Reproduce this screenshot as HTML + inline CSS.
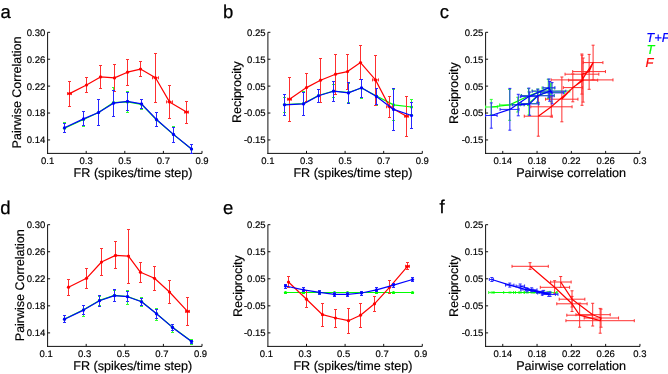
<!DOCTYPE html>
<html><head><meta charset="utf-8"><style>
html,body{margin:0;padding:0;background:#fff;width:668px;height:374px;overflow:hidden}
svg{display:block;will-change:transform}
text{font-family:"Liberation Sans",sans-serif;fill:#000;text-rendering:geometricPrecision;stroke:#000;stroke-width:0.18}
</style></head><body>
<svg width="668" height="374" viewBox="0 0 668 374">
<g font-family="Liberation Sans" fill="#000">
<line x1="47.60" y1="32.30" x2="47.60" y2="153.90" stroke="#111111" stroke-width="1.0"/>
<line x1="47.10" y1="153.40" x2="202.00" y2="153.40" stroke="#111111" stroke-width="1.0"/>
<line x1="47.60" y1="32.30" x2="50.10" y2="32.30" stroke="#111111" stroke-width="1.0"/>
<text x="45.30" y="35.70" font-size="9.5" text-anchor="end">0.30</text>
<line x1="47.60" y1="59.21" x2="50.10" y2="59.21" stroke="#111111" stroke-width="1.0"/>
<text x="45.30" y="62.61" font-size="9.5" text-anchor="end">0.26</text>
<line x1="47.60" y1="86.12" x2="50.10" y2="86.12" stroke="#111111" stroke-width="1.0"/>
<text x="45.30" y="89.52" font-size="9.5" text-anchor="end">0.22</text>
<line x1="47.60" y1="113.03" x2="50.10" y2="113.03" stroke="#111111" stroke-width="1.0"/>
<text x="45.30" y="116.43" font-size="9.5" text-anchor="end">0.18</text>
<line x1="47.60" y1="139.94" x2="50.10" y2="139.94" stroke="#111111" stroke-width="1.0"/>
<text x="45.30" y="143.34" font-size="9.5" text-anchor="end">0.14</text>
<text x="47.60" y="163.70" font-size="9.5" text-anchor="middle">0.1</text>
<line x1="86.20" y1="153.40" x2="86.20" y2="150.90" stroke="#111111" stroke-width="1.0"/>
<text x="86.20" y="163.70" font-size="9.5" text-anchor="middle">0.3</text>
<line x1="124.80" y1="153.40" x2="124.80" y2="150.90" stroke="#111111" stroke-width="1.0"/>
<text x="124.80" y="163.70" font-size="9.5" text-anchor="middle">0.5</text>
<line x1="163.40" y1="153.40" x2="163.40" y2="150.90" stroke="#111111" stroke-width="1.0"/>
<text x="163.40" y="163.70" font-size="9.5" text-anchor="middle">0.7</text>
<line x1="202.00" y1="153.40" x2="202.00" y2="150.90" stroke="#111111" stroke-width="1.0"/>
<text x="202.00" y="163.70" font-size="9.5" text-anchor="middle">0.9</text>
<text x="73.60" y="176.60" font-size="12.6" text-anchor="start">FR (spikes/time step)</text>
<text transform="translate(20.8,148.4) rotate(-90)" font-size="12.5">Pairwise Correlation</text>
<line x1="267.90" y1="32.30" x2="267.90" y2="153.90" stroke="#111111" stroke-width="1.0"/>
<line x1="267.40" y1="153.40" x2="422.30" y2="153.40" stroke="#111111" stroke-width="1.0"/>
<line x1="267.90" y1="32.30" x2="270.40" y2="32.30" stroke="#111111" stroke-width="1.0"/>
<text x="265.60" y="35.70" font-size="9.5" text-anchor="end">0.25</text>
<line x1="267.90" y1="59.21" x2="270.40" y2="59.21" stroke="#111111" stroke-width="1.0"/>
<text x="265.60" y="62.61" font-size="9.5" text-anchor="end">0.15</text>
<line x1="267.90" y1="86.12" x2="270.40" y2="86.12" stroke="#111111" stroke-width="1.0"/>
<text x="265.60" y="89.52" font-size="9.5" text-anchor="end">0.05</text>
<line x1="267.90" y1="113.03" x2="270.40" y2="113.03" stroke="#111111" stroke-width="1.0"/>
<text x="265.60" y="116.43" font-size="9.5" text-anchor="end">-0.05</text>
<line x1="267.90" y1="139.94" x2="270.40" y2="139.94" stroke="#111111" stroke-width="1.0"/>
<text x="265.60" y="143.34" font-size="9.5" text-anchor="end">-0.15</text>
<text x="267.90" y="163.70" font-size="9.5" text-anchor="middle">0.1</text>
<line x1="306.50" y1="153.40" x2="306.50" y2="150.90" stroke="#111111" stroke-width="1.0"/>
<text x="306.50" y="163.70" font-size="9.5" text-anchor="middle">0.3</text>
<line x1="345.10" y1="153.40" x2="345.10" y2="150.90" stroke="#111111" stroke-width="1.0"/>
<text x="345.10" y="163.70" font-size="9.5" text-anchor="middle">0.5</text>
<line x1="383.70" y1="153.40" x2="383.70" y2="150.90" stroke="#111111" stroke-width="1.0"/>
<text x="383.70" y="163.70" font-size="9.5" text-anchor="middle">0.7</text>
<line x1="422.30" y1="153.40" x2="422.30" y2="150.90" stroke="#111111" stroke-width="1.0"/>
<text x="422.30" y="163.70" font-size="9.5" text-anchor="middle">0.9</text>
<text x="293.40" y="176.60" font-size="12.6" text-anchor="start">FR (spikes/time step)</text>
<text transform="translate(241.2,123.1) rotate(-90)" font-size="12.5">Reciprocity</text>
<line x1="485.60" y1="32.30" x2="485.60" y2="153.90" stroke="#111111" stroke-width="1.0"/>
<line x1="485.10" y1="153.40" x2="640.00" y2="153.40" stroke="#111111" stroke-width="1.0"/>
<line x1="485.60" y1="32.30" x2="488.10" y2="32.30" stroke="#111111" stroke-width="1.0"/>
<text x="483.30" y="35.70" font-size="9.5" text-anchor="end">0.25</text>
<line x1="485.60" y1="59.21" x2="488.10" y2="59.21" stroke="#111111" stroke-width="1.0"/>
<text x="483.30" y="62.61" font-size="9.5" text-anchor="end">0.15</text>
<line x1="485.60" y1="86.12" x2="488.10" y2="86.12" stroke="#111111" stroke-width="1.0"/>
<text x="483.30" y="89.52" font-size="9.5" text-anchor="end">0.05</text>
<line x1="485.60" y1="113.03" x2="488.10" y2="113.03" stroke="#111111" stroke-width="1.0"/>
<text x="483.30" y="116.43" font-size="9.5" text-anchor="end">-0.05</text>
<line x1="485.60" y1="139.94" x2="488.10" y2="139.94" stroke="#111111" stroke-width="1.0"/>
<text x="483.30" y="143.34" font-size="9.5" text-anchor="end">-0.15</text>
<line x1="502.75" y1="153.40" x2="502.75" y2="150.90" stroke="#111111" stroke-width="1.0"/>
<text x="502.75" y="163.70" font-size="9.5" text-anchor="middle">0.14</text>
<line x1="537.05" y1="153.40" x2="537.05" y2="150.90" stroke="#111111" stroke-width="1.0"/>
<text x="537.05" y="163.70" font-size="9.5" text-anchor="middle">0.18</text>
<line x1="571.35" y1="153.40" x2="571.35" y2="150.90" stroke="#111111" stroke-width="1.0"/>
<text x="571.35" y="163.70" font-size="9.5" text-anchor="middle">0.22</text>
<line x1="605.65" y1="153.40" x2="605.65" y2="150.90" stroke="#111111" stroke-width="1.0"/>
<text x="605.65" y="163.70" font-size="9.5" text-anchor="middle">0.26</text>
<line x1="639.95" y1="153.40" x2="639.95" y2="150.90" stroke="#111111" stroke-width="1.0"/>
<text x="639.95" y="163.70" font-size="9.5" text-anchor="middle">0.3</text>
<text x="516.20" y="176.60" font-size="12.6" text-anchor="start">Pairwise correlation</text>
<text transform="translate(457.7,124.0) rotate(-90)" font-size="12.5">Reciprocity</text>
<line x1="47.60" y1="224.70" x2="47.60" y2="346.90" stroke="#111111" stroke-width="1.0"/>
<line x1="47.10" y1="346.40" x2="202.00" y2="346.40" stroke="#111111" stroke-width="1.0"/>
<line x1="47.60" y1="224.70" x2="50.10" y2="224.70" stroke="#111111" stroke-width="1.0"/>
<text x="45.30" y="228.10" font-size="9.5" text-anchor="end">0.30</text>
<line x1="47.60" y1="251.74" x2="50.10" y2="251.74" stroke="#111111" stroke-width="1.0"/>
<text x="45.30" y="255.14" font-size="9.5" text-anchor="end">0.26</text>
<line x1="47.60" y1="278.79" x2="50.10" y2="278.79" stroke="#111111" stroke-width="1.0"/>
<text x="45.30" y="282.19" font-size="9.5" text-anchor="end">0.22</text>
<line x1="47.60" y1="305.83" x2="50.10" y2="305.83" stroke="#111111" stroke-width="1.0"/>
<text x="45.30" y="309.23" font-size="9.5" text-anchor="end">0.18</text>
<line x1="47.60" y1="332.88" x2="50.10" y2="332.88" stroke="#111111" stroke-width="1.0"/>
<text x="45.30" y="336.28" font-size="9.5" text-anchor="end">0.14</text>
<text x="46.10" y="356.70" font-size="9.5" text-anchor="middle">0.1</text>
<line x1="86.20" y1="346.40" x2="86.20" y2="343.90" stroke="#111111" stroke-width="1.0"/>
<text x="84.70" y="356.70" font-size="9.5" text-anchor="middle">0.3</text>
<line x1="124.80" y1="346.40" x2="124.80" y2="343.90" stroke="#111111" stroke-width="1.0"/>
<text x="123.30" y="356.70" font-size="9.5" text-anchor="middle">0.5</text>
<line x1="163.40" y1="346.40" x2="163.40" y2="343.90" stroke="#111111" stroke-width="1.0"/>
<text x="161.90" y="356.70" font-size="9.5" text-anchor="middle">0.7</text>
<line x1="202.00" y1="346.40" x2="202.00" y2="343.90" stroke="#111111" stroke-width="1.0"/>
<text x="200.50" y="356.70" font-size="9.5" text-anchor="middle">0.9</text>
<text x="73.20" y="369.60" font-size="12.6" text-anchor="start">FR (spikes/time step)</text>
<text transform="translate(23.8,341.2) rotate(-90)" font-size="12.5">Pairwise Correlation</text>
<line x1="267.90" y1="224.70" x2="267.90" y2="346.90" stroke="#111111" stroke-width="1.0"/>
<line x1="267.40" y1="346.40" x2="422.30" y2="346.40" stroke="#111111" stroke-width="1.0"/>
<line x1="267.90" y1="224.70" x2="270.40" y2="224.70" stroke="#111111" stroke-width="1.0"/>
<text x="265.60" y="228.10" font-size="9.5" text-anchor="end">0.25</text>
<line x1="267.90" y1="251.74" x2="270.40" y2="251.74" stroke="#111111" stroke-width="1.0"/>
<text x="265.60" y="255.14" font-size="9.5" text-anchor="end">0.15</text>
<line x1="267.90" y1="278.79" x2="270.40" y2="278.79" stroke="#111111" stroke-width="1.0"/>
<text x="265.60" y="282.19" font-size="9.5" text-anchor="end">0.05</text>
<line x1="267.90" y1="305.83" x2="270.40" y2="305.83" stroke="#111111" stroke-width="1.0"/>
<text x="265.60" y="309.23" font-size="9.5" text-anchor="end">-0.05</text>
<line x1="267.90" y1="332.88" x2="270.40" y2="332.88" stroke="#111111" stroke-width="1.0"/>
<text x="265.60" y="336.28" font-size="9.5" text-anchor="end">-0.15</text>
<text x="266.40" y="356.70" font-size="9.5" text-anchor="middle">0.1</text>
<line x1="306.50" y1="346.40" x2="306.50" y2="343.90" stroke="#111111" stroke-width="1.0"/>
<text x="305.00" y="356.70" font-size="9.5" text-anchor="middle">0.3</text>
<line x1="345.10" y1="346.40" x2="345.10" y2="343.90" stroke="#111111" stroke-width="1.0"/>
<text x="343.60" y="356.70" font-size="9.5" text-anchor="middle">0.5</text>
<line x1="383.70" y1="346.40" x2="383.70" y2="343.90" stroke="#111111" stroke-width="1.0"/>
<text x="382.20" y="356.70" font-size="9.5" text-anchor="middle">0.7</text>
<line x1="422.30" y1="346.40" x2="422.30" y2="343.90" stroke="#111111" stroke-width="1.0"/>
<text x="420.80" y="356.70" font-size="9.5" text-anchor="middle">0.9</text>
<text x="293.40" y="369.60" font-size="12.6" text-anchor="start">FR (spikes/time step)</text>
<text transform="translate(241.7,317.1) rotate(-90)" font-size="12.5">Reciprocity</text>
<line x1="485.60" y1="224.70" x2="485.60" y2="346.90" stroke="#111111" stroke-width="1.0"/>
<line x1="485.10" y1="346.40" x2="640.00" y2="346.40" stroke="#111111" stroke-width="1.0"/>
<line x1="485.60" y1="224.70" x2="488.10" y2="224.70" stroke="#111111" stroke-width="1.0"/>
<text x="483.30" y="228.10" font-size="9.5" text-anchor="end">0.25</text>
<line x1="485.60" y1="251.74" x2="488.10" y2="251.74" stroke="#111111" stroke-width="1.0"/>
<text x="483.30" y="255.14" font-size="9.5" text-anchor="end">0.15</text>
<line x1="485.60" y1="278.79" x2="488.10" y2="278.79" stroke="#111111" stroke-width="1.0"/>
<text x="483.30" y="282.19" font-size="9.5" text-anchor="end">0.05</text>
<line x1="485.60" y1="305.83" x2="488.10" y2="305.83" stroke="#111111" stroke-width="1.0"/>
<text x="483.30" y="309.23" font-size="9.5" text-anchor="end">-0.05</text>
<line x1="485.60" y1="332.88" x2="488.10" y2="332.88" stroke="#111111" stroke-width="1.0"/>
<text x="483.30" y="336.28" font-size="9.5" text-anchor="end">-0.15</text>
<line x1="502.75" y1="346.40" x2="502.75" y2="343.90" stroke="#111111" stroke-width="1.0"/>
<text x="502.75" y="356.70" font-size="9.5" text-anchor="middle">0.14</text>
<line x1="537.05" y1="346.40" x2="537.05" y2="343.90" stroke="#111111" stroke-width="1.0"/>
<text x="537.05" y="356.70" font-size="9.5" text-anchor="middle">0.18</text>
<line x1="571.35" y1="346.40" x2="571.35" y2="343.90" stroke="#111111" stroke-width="1.0"/>
<text x="571.35" y="356.70" font-size="9.5" text-anchor="middle">0.22</text>
<line x1="605.65" y1="346.40" x2="605.65" y2="343.90" stroke="#111111" stroke-width="1.0"/>
<text x="605.65" y="356.70" font-size="9.5" text-anchor="middle">0.26</text>
<line x1="639.95" y1="346.40" x2="639.95" y2="343.90" stroke="#111111" stroke-width="1.0"/>
<text x="639.95" y="356.70" font-size="9.5" text-anchor="middle">0.3</text>
<text x="516.20" y="369.60" font-size="12.6" text-anchor="start">Pairwise correlation</text>
<text transform="translate(458.1,317.1) rotate(-90)" font-size="12.5">Reciprocity</text>
<text x="0.60" y="17.50" font-size="18.5" text-anchor="start" style="stroke:#000;stroke-width:0.25">a</text>
<text x="223.00" y="17.50" font-size="18.5" text-anchor="start" style="stroke:#000;stroke-width:0.25">b</text>
<text x="439.70" y="17.60" font-size="18.5" text-anchor="start" style="stroke:#000;stroke-width:0.25">c</text>
<text x="0.20" y="213.50" font-size="18.5" text-anchor="start" style="stroke:#000;stroke-width:0.25">d</text>
<text x="223.00" y="213.50" font-size="18.5" text-anchor="start" style="stroke:#000;stroke-width:0.25">e</text>
<text x="439.50" y="213.30" font-size="18.5" text-anchor="start" style="stroke:#000;stroke-width:0.25">f</text>
<g font-style="italic" font-size="13">
<text x="646.2" y="42.2" style="fill:#0000ff;stroke:#0000ff">T+F</text>
<text x="646.4" y="54.4" style="fill:#00ff00;stroke:#00ff00">T</text>
<text x="645.6" y="66.8" style="fill:#ff0000;stroke:#ff0000">F</text>
</g>
</g>
<line x1="64.50" y1="122.80" x2="64.50" y2="132.50" stroke="#30ff30" stroke-width="1.0"/>
<line x1="63.00" y1="122.50" x2="66.00" y2="122.50" stroke="#30ff30" stroke-width="1.0"/>
<line x1="63.00" y1="132.50" x2="66.00" y2="132.50" stroke="#30ff30" stroke-width="1.0"/>
<line x1="83.50" y1="111.50" x2="83.50" y2="126.50" stroke="#30ff30" stroke-width="1.0"/>
<line x1="82.00" y1="111.50" x2="85.00" y2="111.50" stroke="#30ff30" stroke-width="1.0"/>
<line x1="82.00" y1="126.50" x2="85.00" y2="126.50" stroke="#30ff30" stroke-width="1.0"/>
<line x1="98.50" y1="99.50" x2="98.50" y2="125.30" stroke="#30ff30" stroke-width="1.0"/>
<line x1="97.00" y1="99.50" x2="100.00" y2="99.50" stroke="#30ff30" stroke-width="1.0"/>
<line x1="97.00" y1="125.50" x2="100.00" y2="125.50" stroke="#30ff30" stroke-width="1.0"/>
<line x1="113.50" y1="87.40" x2="113.50" y2="116.90" stroke="#30ff30" stroke-width="1.0"/>
<line x1="112.00" y1="87.50" x2="115.00" y2="87.50" stroke="#30ff30" stroke-width="1.0"/>
<line x1="112.00" y1="116.50" x2="115.00" y2="116.50" stroke="#30ff30" stroke-width="1.0"/>
<line x1="127.50" y1="91.60" x2="127.50" y2="112.40" stroke="#30ff30" stroke-width="1.0"/>
<line x1="126.00" y1="91.50" x2="129.00" y2="91.50" stroke="#30ff30" stroke-width="1.0"/>
<line x1="126.00" y1="112.50" x2="129.00" y2="112.50" stroke="#30ff30" stroke-width="1.0"/>
<line x1="141.50" y1="99.50" x2="141.50" y2="109.20" stroke="#30ff30" stroke-width="1.0"/>
<line x1="140.00" y1="99.50" x2="143.00" y2="99.50" stroke="#30ff30" stroke-width="1.0"/>
<line x1="140.00" y1="109.50" x2="143.00" y2="109.50" stroke="#30ff30" stroke-width="1.0"/>
<line x1="156.50" y1="112.30" x2="156.50" y2="126.20" stroke="#30ff30" stroke-width="1.0"/>
<line x1="155.00" y1="112.50" x2="158.00" y2="112.50" stroke="#30ff30" stroke-width="1.0"/>
<line x1="155.00" y1="126.50" x2="158.00" y2="126.50" stroke="#30ff30" stroke-width="1.0"/>
<line x1="173.50" y1="126.20" x2="173.50" y2="142.40" stroke="#30ff30" stroke-width="1.0"/>
<line x1="172.00" y1="126.50" x2="175.00" y2="126.50" stroke="#30ff30" stroke-width="1.0"/>
<line x1="172.00" y1="142.50" x2="175.00" y2="142.50" stroke="#30ff30" stroke-width="1.0"/>
<line x1="191.50" y1="144.00" x2="191.50" y2="153.50" stroke="#30ff30" stroke-width="1.0"/>
<line x1="190.00" y1="144.50" x2="193.00" y2="144.50" stroke="#30ff30" stroke-width="1.0"/>
<line x1="190.00" y1="153.50" x2="193.00" y2="153.50" stroke="#30ff30" stroke-width="1.0"/>
<polyline points="64.50,128.20 83.50,119.50 98.50,112.50 113.50,102.60 127.50,101.90 141.50,104.30 156.50,119.80 173.50,134.60 191.50,149.00" fill="none" stroke="#00ff00" stroke-width="1.2" stroke-linejoin="round"/>
<circle cx="64.50" cy="128.20" r="1.6" fill="#00ff00"/>
<circle cx="83.50" cy="119.50" r="1.6" fill="#00ff00"/>
<circle cx="98.50" cy="112.50" r="1.6" fill="#00ff00"/>
<circle cx="113.50" cy="102.60" r="1.6" fill="#00ff00"/>
<circle cx="127.50" cy="101.90" r="1.6" fill="#00ff00"/>
<circle cx="141.50" cy="104.30" r="1.6" fill="#00ff00"/>
<circle cx="156.50" cy="119.80" r="1.6" fill="#00ff00"/>
<circle cx="173.50" cy="134.60" r="1.6" fill="#00ff00"/>
<circle cx="191.50" cy="149.00" r="1.6" fill="#00ff00"/>
<line x1="69.50" y1="81.00" x2="69.50" y2="106.40" stroke="#ff3030" stroke-width="1.0"/>
<line x1="68.00" y1="81.50" x2="71.00" y2="81.50" stroke="#ff3030" stroke-width="1.0"/>
<line x1="68.00" y1="106.50" x2="71.00" y2="106.50" stroke="#ff3030" stroke-width="1.0"/>
<line x1="67.00" y1="93.60" x2="71.00" y2="93.60" stroke="#ff3030" stroke-width="1.0"/>
<line x1="67.50" y1="92.10" x2="67.50" y2="95.10" stroke="#ff3030" stroke-width="1.0"/>
<line x1="71.50" y1="92.10" x2="71.50" y2="95.10" stroke="#ff3030" stroke-width="1.0"/>
<line x1="86.50" y1="77.40" x2="86.50" y2="92.50" stroke="#ff3030" stroke-width="1.0"/>
<line x1="85.00" y1="77.50" x2="88.00" y2="77.50" stroke="#ff3030" stroke-width="1.0"/>
<line x1="85.00" y1="92.50" x2="88.00" y2="92.50" stroke="#ff3030" stroke-width="1.0"/>
<line x1="100.50" y1="65.50" x2="100.50" y2="88.30" stroke="#ff3030" stroke-width="1.0"/>
<line x1="99.00" y1="65.50" x2="102.00" y2="65.50" stroke="#ff3030" stroke-width="1.0"/>
<line x1="99.00" y1="88.50" x2="102.00" y2="88.50" stroke="#ff3030" stroke-width="1.0"/>
<line x1="114.50" y1="64.60" x2="114.50" y2="91.10" stroke="#ff3030" stroke-width="1.0"/>
<line x1="113.00" y1="64.50" x2="116.00" y2="64.50" stroke="#ff3030" stroke-width="1.0"/>
<line x1="113.00" y1="91.50" x2="116.00" y2="91.50" stroke="#ff3030" stroke-width="1.0"/>
<line x1="127.50" y1="59.40" x2="127.50" y2="85.10" stroke="#ff3030" stroke-width="1.0"/>
<line x1="126.00" y1="59.50" x2="129.00" y2="59.50" stroke="#ff3030" stroke-width="1.0"/>
<line x1="126.00" y1="85.50" x2="129.00" y2="85.50" stroke="#ff3030" stroke-width="1.0"/>
<line x1="140.50" y1="61.40" x2="140.50" y2="76.90" stroke="#ff3030" stroke-width="1.0"/>
<line x1="139.00" y1="61.50" x2="142.00" y2="61.50" stroke="#ff3030" stroke-width="1.0"/>
<line x1="139.00" y1="76.50" x2="142.00" y2="76.50" stroke="#ff3030" stroke-width="1.0"/>
<line x1="155.50" y1="53.50" x2="155.50" y2="102.00" stroke="#ff3030" stroke-width="1.0"/>
<line x1="154.00" y1="53.50" x2="157.00" y2="53.50" stroke="#ff3030" stroke-width="1.0"/>
<line x1="154.00" y1="102.50" x2="157.00" y2="102.50" stroke="#ff3030" stroke-width="1.0"/>
<line x1="152.60" y1="77.80" x2="158.60" y2="77.80" stroke="#ff3030" stroke-width="1.0"/>
<line x1="152.50" y1="76.30" x2="152.50" y2="79.30" stroke="#ff3030" stroke-width="1.0"/>
<line x1="158.50" y1="76.30" x2="158.50" y2="79.30" stroke="#ff3030" stroke-width="1.0"/>
<line x1="169.50" y1="85.60" x2="169.50" y2="118.00" stroke="#ff3030" stroke-width="1.0"/>
<line x1="168.00" y1="85.50" x2="171.00" y2="85.50" stroke="#ff3030" stroke-width="1.0"/>
<line x1="168.00" y1="118.50" x2="171.00" y2="118.50" stroke="#ff3030" stroke-width="1.0"/>
<line x1="166.60" y1="101.90" x2="172.00" y2="101.90" stroke="#ff3030" stroke-width="1.0"/>
<line x1="166.50" y1="100.40" x2="166.50" y2="103.40" stroke="#ff3030" stroke-width="1.0"/>
<line x1="172.50" y1="100.40" x2="172.50" y2="103.40" stroke="#ff3030" stroke-width="1.0"/>
<line x1="186.50" y1="101.20" x2="186.50" y2="123.10" stroke="#ff3030" stroke-width="1.0"/>
<line x1="185.00" y1="101.50" x2="188.00" y2="101.50" stroke="#ff3030" stroke-width="1.0"/>
<line x1="185.00" y1="123.50" x2="188.00" y2="123.50" stroke="#ff3030" stroke-width="1.0"/>
<line x1="184.10" y1="112.10" x2="188.10" y2="112.10" stroke="#ff3030" stroke-width="1.0"/>
<line x1="184.50" y1="110.60" x2="184.50" y2="113.60" stroke="#ff3030" stroke-width="1.0"/>
<line x1="188.50" y1="110.60" x2="188.50" y2="113.60" stroke="#ff3030" stroke-width="1.0"/>
<polyline points="69.50,93.60 86.50,85.00 100.50,76.90 114.50,77.90 127.50,72.20 140.50,69.10 155.50,77.80 169.50,101.90 186.50,112.10" fill="none" stroke="#ff0000" stroke-width="1.2" stroke-linejoin="round"/>
<circle cx="69.50" cy="93.60" r="1.6" fill="#ff0000"/>
<circle cx="86.50" cy="85.00" r="1.6" fill="#ff0000"/>
<circle cx="100.50" cy="76.90" r="1.6" fill="#ff0000"/>
<circle cx="114.50" cy="77.90" r="1.6" fill="#ff0000"/>
<circle cx="127.50" cy="72.20" r="1.6" fill="#ff0000"/>
<circle cx="140.50" cy="69.10" r="1.6" fill="#ff0000"/>
<circle cx="155.50" cy="77.80" r="1.6" fill="#ff0000"/>
<circle cx="169.50" cy="101.90" r="1.6" fill="#ff0000"/>
<circle cx="186.50" cy="112.10" r="1.6" fill="#ff0000"/>
<line x1="64.50" y1="123.30" x2="64.50" y2="132.50" stroke="#2828ff" stroke-width="1.0"/>
<line x1="63.00" y1="123.50" x2="66.00" y2="123.50" stroke="#2828ff" stroke-width="1.0"/>
<line x1="63.00" y1="132.50" x2="66.00" y2="132.50" stroke="#2828ff" stroke-width="1.0"/>
<line x1="83.50" y1="111.70" x2="83.50" y2="125.30" stroke="#2828ff" stroke-width="1.0"/>
<line x1="82.00" y1="111.50" x2="85.00" y2="111.50" stroke="#2828ff" stroke-width="1.0"/>
<line x1="82.00" y1="125.50" x2="85.00" y2="125.50" stroke="#2828ff" stroke-width="1.0"/>
<line x1="98.50" y1="99.70" x2="98.50" y2="125.20" stroke="#2828ff" stroke-width="1.0"/>
<line x1="97.00" y1="99.50" x2="100.00" y2="99.50" stroke="#2828ff" stroke-width="1.0"/>
<line x1="97.00" y1="125.50" x2="100.00" y2="125.50" stroke="#2828ff" stroke-width="1.0"/>
<line x1="113.50" y1="90.50" x2="113.50" y2="116.90" stroke="#2828ff" stroke-width="1.0"/>
<line x1="112.00" y1="90.50" x2="115.00" y2="90.50" stroke="#2828ff" stroke-width="1.0"/>
<line x1="112.00" y1="116.50" x2="115.00" y2="116.50" stroke="#2828ff" stroke-width="1.0"/>
<line x1="127.50" y1="92.40" x2="127.50" y2="110.30" stroke="#2828ff" stroke-width="1.0"/>
<line x1="126.00" y1="92.50" x2="129.00" y2="92.50" stroke="#2828ff" stroke-width="1.0"/>
<line x1="126.00" y1="110.50" x2="129.00" y2="110.50" stroke="#2828ff" stroke-width="1.0"/>
<line x1="141.50" y1="99.00" x2="141.50" y2="108.40" stroke="#2828ff" stroke-width="1.0"/>
<line x1="140.00" y1="99.50" x2="143.00" y2="99.50" stroke="#2828ff" stroke-width="1.0"/>
<line x1="140.00" y1="108.50" x2="143.00" y2="108.50" stroke="#2828ff" stroke-width="1.0"/>
<line x1="156.50" y1="112.30" x2="156.50" y2="126.20" stroke="#2828ff" stroke-width="1.0"/>
<line x1="155.00" y1="112.50" x2="158.00" y2="112.50" stroke="#2828ff" stroke-width="1.0"/>
<line x1="155.00" y1="126.50" x2="158.00" y2="126.50" stroke="#2828ff" stroke-width="1.0"/>
<line x1="173.50" y1="127.20" x2="173.50" y2="142.10" stroke="#2828ff" stroke-width="1.0"/>
<line x1="172.00" y1="127.50" x2="175.00" y2="127.50" stroke="#2828ff" stroke-width="1.0"/>
<line x1="172.00" y1="142.50" x2="175.00" y2="142.50" stroke="#2828ff" stroke-width="1.0"/>
<line x1="191.50" y1="144.40" x2="191.50" y2="153.50" stroke="#2828ff" stroke-width="1.0"/>
<line x1="190.00" y1="144.50" x2="193.00" y2="144.50" stroke="#2828ff" stroke-width="1.0"/>
<line x1="190.00" y1="153.50" x2="193.00" y2="153.50" stroke="#2828ff" stroke-width="1.0"/>
<polyline points="64.50,127.80 83.50,118.90 98.50,112.50 113.50,103.20 127.50,101.30 141.50,103.80 156.50,119.50 173.50,134.40 191.50,149.00" fill="none" stroke="#0000ff" stroke-width="1.2" stroke-linejoin="round"/>
<circle cx="64.50" cy="127.80" r="1.6" fill="#0000ff"/>
<circle cx="83.50" cy="118.90" r="1.6" fill="#0000ff"/>
<circle cx="98.50" cy="112.50" r="1.6" fill="#0000ff"/>
<circle cx="113.50" cy="103.20" r="1.6" fill="#0000ff"/>
<circle cx="127.50" cy="101.30" r="1.6" fill="#0000ff"/>
<circle cx="141.50" cy="103.80" r="1.6" fill="#0000ff"/>
<circle cx="156.50" cy="119.50" r="1.6" fill="#0000ff"/>
<circle cx="173.50" cy="134.40" r="1.6" fill="#0000ff"/>
<circle cx="191.50" cy="149.00" r="1.6" fill="#0000ff"/>
<line x1="284.50" y1="97.30" x2="284.50" y2="112.00" stroke="#30ff30" stroke-width="1.0"/>
<line x1="283.00" y1="97.50" x2="286.00" y2="97.50" stroke="#30ff30" stroke-width="1.0"/>
<line x1="283.00" y1="112.50" x2="286.00" y2="112.50" stroke="#30ff30" stroke-width="1.0"/>
<line x1="303.50" y1="91.90" x2="303.50" y2="115.00" stroke="#30ff30" stroke-width="1.0"/>
<line x1="302.00" y1="91.50" x2="305.00" y2="91.50" stroke="#30ff30" stroke-width="1.0"/>
<line x1="302.00" y1="115.50" x2="305.00" y2="115.50" stroke="#30ff30" stroke-width="1.0"/>
<line x1="318.50" y1="89.00" x2="318.50" y2="102.00" stroke="#30ff30" stroke-width="1.0"/>
<line x1="317.00" y1="89.50" x2="320.00" y2="89.50" stroke="#30ff30" stroke-width="1.0"/>
<line x1="317.00" y1="102.50" x2="320.00" y2="102.50" stroke="#30ff30" stroke-width="1.0"/>
<line x1="333.50" y1="84.00" x2="333.50" y2="97.90" stroke="#30ff30" stroke-width="1.0"/>
<line x1="332.00" y1="84.50" x2="335.00" y2="84.50" stroke="#30ff30" stroke-width="1.0"/>
<line x1="332.00" y1="97.50" x2="335.00" y2="97.50" stroke="#30ff30" stroke-width="1.0"/>
<line x1="348.50" y1="83.00" x2="348.50" y2="102.00" stroke="#30ff30" stroke-width="1.0"/>
<line x1="347.00" y1="83.50" x2="350.00" y2="83.50" stroke="#30ff30" stroke-width="1.0"/>
<line x1="347.00" y1="102.50" x2="350.00" y2="102.50" stroke="#30ff30" stroke-width="1.0"/>
<line x1="361.50" y1="79.30" x2="361.50" y2="98.50" stroke="#30ff30" stroke-width="1.0"/>
<line x1="360.00" y1="79.50" x2="363.00" y2="79.50" stroke="#30ff30" stroke-width="1.0"/>
<line x1="360.00" y1="98.50" x2="363.00" y2="98.50" stroke="#30ff30" stroke-width="1.0"/>
<line x1="376.50" y1="88.60" x2="376.50" y2="105.50" stroke="#30ff30" stroke-width="1.0"/>
<line x1="375.00" y1="88.50" x2="378.00" y2="88.50" stroke="#30ff30" stroke-width="1.0"/>
<line x1="375.00" y1="105.50" x2="378.00" y2="105.50" stroke="#30ff30" stroke-width="1.0"/>
<line x1="393.50" y1="89.50" x2="393.50" y2="120.30" stroke="#30ff30" stroke-width="1.0"/>
<line x1="392.00" y1="89.50" x2="395.00" y2="89.50" stroke="#30ff30" stroke-width="1.0"/>
<line x1="392.00" y1="120.50" x2="395.00" y2="120.50" stroke="#30ff30" stroke-width="1.0"/>
<line x1="411.50" y1="99.40" x2="411.50" y2="114.60" stroke="#30ff30" stroke-width="1.0"/>
<line x1="410.00" y1="99.50" x2="413.00" y2="99.50" stroke="#30ff30" stroke-width="1.0"/>
<line x1="410.00" y1="114.50" x2="413.00" y2="114.50" stroke="#30ff30" stroke-width="1.0"/>
<polyline points="284.50,104.60 303.50,103.50 318.50,95.50 333.50,91.00 348.50,92.50 361.50,88.00 376.50,96.00 393.50,104.90 411.50,107.00" fill="none" stroke="#00ff00" stroke-width="1.2" stroke-linejoin="round"/>
<circle cx="284.50" cy="104.60" r="1.6" fill="#00ff00"/>
<circle cx="303.50" cy="103.50" r="1.6" fill="#00ff00"/>
<circle cx="318.50" cy="95.50" r="1.6" fill="#00ff00"/>
<circle cx="333.50" cy="91.00" r="1.6" fill="#00ff00"/>
<circle cx="348.50" cy="92.50" r="1.6" fill="#00ff00"/>
<circle cx="361.50" cy="88.00" r="1.6" fill="#00ff00"/>
<circle cx="376.50" cy="96.00" r="1.6" fill="#00ff00"/>
<circle cx="393.50" cy="104.90" r="1.6" fill="#00ff00"/>
<circle cx="411.50" cy="107.00" r="1.6" fill="#00ff00"/>
<line x1="289.50" y1="77.00" x2="289.50" y2="121.80" stroke="#ff3030" stroke-width="1.0"/>
<line x1="288.00" y1="77.50" x2="291.00" y2="77.50" stroke="#ff3030" stroke-width="1.0"/>
<line x1="288.00" y1="121.50" x2="291.00" y2="121.50" stroke="#ff3030" stroke-width="1.0"/>
<line x1="287.30" y1="99.20" x2="291.30" y2="99.20" stroke="#ff3030" stroke-width="1.0"/>
<line x1="287.50" y1="97.70" x2="287.50" y2="100.70" stroke="#ff3030" stroke-width="1.0"/>
<line x1="291.50" y1="97.70" x2="291.50" y2="100.70" stroke="#ff3030" stroke-width="1.0"/>
<line x1="306.50" y1="73.90" x2="306.50" y2="101.80" stroke="#ff3030" stroke-width="1.0"/>
<line x1="305.00" y1="73.50" x2="308.00" y2="73.50" stroke="#ff3030" stroke-width="1.0"/>
<line x1="305.00" y1="101.50" x2="308.00" y2="101.50" stroke="#ff3030" stroke-width="1.0"/>
<line x1="320.50" y1="58.00" x2="320.50" y2="102.10" stroke="#ff3030" stroke-width="1.0"/>
<line x1="319.00" y1="58.50" x2="322.00" y2="58.50" stroke="#ff3030" stroke-width="1.0"/>
<line x1="319.00" y1="102.50" x2="322.00" y2="102.50" stroke="#ff3030" stroke-width="1.0"/>
<line x1="335.50" y1="54.00" x2="335.50" y2="94.10" stroke="#ff3030" stroke-width="1.0"/>
<line x1="334.00" y1="54.50" x2="337.00" y2="54.50" stroke="#ff3030" stroke-width="1.0"/>
<line x1="334.00" y1="94.50" x2="337.00" y2="94.50" stroke="#ff3030" stroke-width="1.0"/>
<line x1="347.50" y1="54.40" x2="347.50" y2="89.30" stroke="#ff3030" stroke-width="1.0"/>
<line x1="346.00" y1="54.50" x2="349.00" y2="54.50" stroke="#ff3030" stroke-width="1.0"/>
<line x1="346.00" y1="89.50" x2="349.00" y2="89.50" stroke="#ff3030" stroke-width="1.0"/>
<line x1="360.50" y1="45.20" x2="360.50" y2="79.70" stroke="#ff3030" stroke-width="1.0"/>
<line x1="359.00" y1="45.50" x2="362.00" y2="45.50" stroke="#ff3030" stroke-width="1.0"/>
<line x1="359.00" y1="79.50" x2="362.00" y2="79.50" stroke="#ff3030" stroke-width="1.0"/>
<line x1="375.50" y1="55.20" x2="375.50" y2="105.30" stroke="#ff3030" stroke-width="1.0"/>
<line x1="374.00" y1="55.50" x2="377.00" y2="55.50" stroke="#ff3030" stroke-width="1.0"/>
<line x1="374.00" y1="105.50" x2="377.00" y2="105.50" stroke="#ff3030" stroke-width="1.0"/>
<line x1="372.90" y1="79.90" x2="378.90" y2="79.90" stroke="#ff3030" stroke-width="1.0"/>
<line x1="372.50" y1="78.40" x2="372.50" y2="81.40" stroke="#ff3030" stroke-width="1.0"/>
<line x1="378.50" y1="78.40" x2="378.50" y2="81.40" stroke="#ff3030" stroke-width="1.0"/>
<line x1="389.50" y1="96.60" x2="389.50" y2="117.00" stroke="#ff3030" stroke-width="1.0"/>
<line x1="388.00" y1="96.50" x2="391.00" y2="96.50" stroke="#ff3030" stroke-width="1.0"/>
<line x1="388.00" y1="117.50" x2="391.00" y2="117.50" stroke="#ff3030" stroke-width="1.0"/>
<line x1="386.90" y1="106.80" x2="392.30" y2="106.80" stroke="#ff3030" stroke-width="1.0"/>
<line x1="386.50" y1="105.30" x2="386.50" y2="108.30" stroke="#ff3030" stroke-width="1.0"/>
<line x1="392.50" y1="105.30" x2="392.50" y2="108.30" stroke="#ff3030" stroke-width="1.0"/>
<line x1="406.50" y1="96.00" x2="406.50" y2="136.20" stroke="#ff3030" stroke-width="1.0"/>
<line x1="405.00" y1="96.50" x2="408.00" y2="96.50" stroke="#ff3030" stroke-width="1.0"/>
<line x1="405.00" y1="136.50" x2="408.00" y2="136.50" stroke="#ff3030" stroke-width="1.0"/>
<line x1="404.40" y1="116.20" x2="408.40" y2="116.20" stroke="#ff3030" stroke-width="1.0"/>
<line x1="404.50" y1="114.70" x2="404.50" y2="117.70" stroke="#ff3030" stroke-width="1.0"/>
<line x1="408.50" y1="114.70" x2="408.50" y2="117.70" stroke="#ff3030" stroke-width="1.0"/>
<polyline points="289.50,99.20 306.50,87.60 320.50,80.20 335.50,74.20 347.50,71.60 360.50,62.60 375.50,79.90 389.50,106.80 406.50,116.20" fill="none" stroke="#ff0000" stroke-width="1.2" stroke-linejoin="round"/>
<circle cx="289.50" cy="99.20" r="1.6" fill="#ff0000"/>
<circle cx="306.50" cy="87.60" r="1.6" fill="#ff0000"/>
<circle cx="320.50" cy="80.20" r="1.6" fill="#ff0000"/>
<circle cx="335.50" cy="74.20" r="1.6" fill="#ff0000"/>
<circle cx="347.50" cy="71.60" r="1.6" fill="#ff0000"/>
<circle cx="360.50" cy="62.60" r="1.6" fill="#ff0000"/>
<circle cx="375.50" cy="79.90" r="1.6" fill="#ff0000"/>
<circle cx="389.50" cy="106.80" r="1.6" fill="#ff0000"/>
<circle cx="406.50" cy="116.20" r="1.6" fill="#ff0000"/>
<line x1="284.50" y1="94.30" x2="284.50" y2="115.80" stroke="#2828ff" stroke-width="1.0"/>
<line x1="283.00" y1="94.50" x2="286.00" y2="94.50" stroke="#2828ff" stroke-width="1.0"/>
<line x1="283.00" y1="115.50" x2="286.00" y2="115.50" stroke="#2828ff" stroke-width="1.0"/>
<line x1="303.50" y1="92.10" x2="303.50" y2="115.30" stroke="#2828ff" stroke-width="1.0"/>
<line x1="302.00" y1="92.50" x2="305.00" y2="92.50" stroke="#2828ff" stroke-width="1.0"/>
<line x1="302.00" y1="115.50" x2="305.00" y2="115.50" stroke="#2828ff" stroke-width="1.0"/>
<line x1="318.50" y1="89.20" x2="318.50" y2="102.40" stroke="#2828ff" stroke-width="1.0"/>
<line x1="317.00" y1="89.50" x2="320.00" y2="89.50" stroke="#2828ff" stroke-width="1.0"/>
<line x1="317.00" y1="102.50" x2="320.00" y2="102.50" stroke="#2828ff" stroke-width="1.0"/>
<line x1="333.50" y1="81.50" x2="333.50" y2="101.20" stroke="#2828ff" stroke-width="1.0"/>
<line x1="332.00" y1="81.50" x2="335.00" y2="81.50" stroke="#2828ff" stroke-width="1.0"/>
<line x1="332.00" y1="101.50" x2="335.00" y2="101.50" stroke="#2828ff" stroke-width="1.0"/>
<line x1="348.50" y1="82.60" x2="348.50" y2="103.80" stroke="#2828ff" stroke-width="1.0"/>
<line x1="347.00" y1="82.50" x2="350.00" y2="82.50" stroke="#2828ff" stroke-width="1.0"/>
<line x1="347.00" y1="103.50" x2="350.00" y2="103.50" stroke="#2828ff" stroke-width="1.0"/>
<line x1="361.50" y1="79.00" x2="361.50" y2="97.30" stroke="#2828ff" stroke-width="1.0"/>
<line x1="360.00" y1="79.50" x2="363.00" y2="79.50" stroke="#2828ff" stroke-width="1.0"/>
<line x1="360.00" y1="97.50" x2="363.00" y2="97.50" stroke="#2828ff" stroke-width="1.0"/>
<line x1="376.50" y1="88.10" x2="376.50" y2="104.80" stroke="#2828ff" stroke-width="1.0"/>
<line x1="375.00" y1="88.50" x2="378.00" y2="88.50" stroke="#2828ff" stroke-width="1.0"/>
<line x1="375.00" y1="104.50" x2="378.00" y2="104.50" stroke="#2828ff" stroke-width="1.0"/>
<line x1="393.50" y1="88.40" x2="393.50" y2="130.20" stroke="#2828ff" stroke-width="1.0"/>
<line x1="392.00" y1="88.50" x2="395.00" y2="88.50" stroke="#2828ff" stroke-width="1.0"/>
<line x1="392.00" y1="130.50" x2="395.00" y2="130.50" stroke="#2828ff" stroke-width="1.0"/>
<line x1="411.50" y1="102.90" x2="411.50" y2="128.20" stroke="#2828ff" stroke-width="1.0"/>
<line x1="410.00" y1="102.50" x2="413.00" y2="102.50" stroke="#2828ff" stroke-width="1.0"/>
<line x1="410.00" y1="128.50" x2="413.00" y2="128.50" stroke="#2828ff" stroke-width="1.0"/>
<polyline points="284.50,104.80 303.50,103.90 318.50,95.80 333.50,91.20 348.50,92.90 361.50,87.80 376.50,96.60 393.50,109.40 411.50,115.50" fill="none" stroke="#0000ff" stroke-width="1.2" stroke-linejoin="round"/>
<circle cx="284.50" cy="104.80" r="1.6" fill="#0000ff"/>
<circle cx="303.50" cy="103.90" r="1.6" fill="#0000ff"/>
<circle cx="318.50" cy="95.80" r="1.6" fill="#0000ff"/>
<circle cx="333.50" cy="91.20" r="1.6" fill="#0000ff"/>
<circle cx="348.50" cy="92.90" r="1.6" fill="#0000ff"/>
<circle cx="361.50" cy="87.80" r="1.6" fill="#0000ff"/>
<circle cx="376.50" cy="96.60" r="1.6" fill="#0000ff"/>
<circle cx="393.50" cy="109.40" r="1.6" fill="#0000ff"/>
<circle cx="411.50" cy="115.50" r="1.6" fill="#0000ff"/>
<line x1="64.50" y1="315.80" x2="64.50" y2="322.90" stroke="#30ff30" stroke-width="1.0"/>
<line x1="63.00" y1="315.50" x2="66.00" y2="315.50" stroke="#30ff30" stroke-width="1.0"/>
<line x1="63.00" y1="322.50" x2="66.00" y2="322.50" stroke="#30ff30" stroke-width="1.0"/>
<line x1="83.50" y1="305.30" x2="83.50" y2="316.10" stroke="#30ff30" stroke-width="1.0"/>
<line x1="82.00" y1="305.50" x2="85.00" y2="305.50" stroke="#30ff30" stroke-width="1.0"/>
<line x1="82.00" y1="316.50" x2="85.00" y2="316.50" stroke="#30ff30" stroke-width="1.0"/>
<line x1="99.50" y1="296.50" x2="99.50" y2="305.50" stroke="#30ff30" stroke-width="1.0"/>
<line x1="98.00" y1="296.50" x2="101.00" y2="296.50" stroke="#30ff30" stroke-width="1.0"/>
<line x1="98.00" y1="305.50" x2="101.00" y2="305.50" stroke="#30ff30" stroke-width="1.0"/>
<line x1="114.50" y1="290.00" x2="114.50" y2="301.30" stroke="#30ff30" stroke-width="1.0"/>
<line x1="113.00" y1="290.50" x2="116.00" y2="290.50" stroke="#30ff30" stroke-width="1.0"/>
<line x1="113.00" y1="301.50" x2="116.00" y2="301.50" stroke="#30ff30" stroke-width="1.0"/>
<line x1="127.50" y1="290.40" x2="127.50" y2="304.00" stroke="#30ff30" stroke-width="1.0"/>
<line x1="126.00" y1="290.50" x2="129.00" y2="290.50" stroke="#30ff30" stroke-width="1.0"/>
<line x1="126.00" y1="304.50" x2="129.00" y2="304.50" stroke="#30ff30" stroke-width="1.0"/>
<line x1="141.50" y1="297.30" x2="141.50" y2="306.00" stroke="#30ff30" stroke-width="1.0"/>
<line x1="140.00" y1="297.50" x2="143.00" y2="297.50" stroke="#30ff30" stroke-width="1.0"/>
<line x1="140.00" y1="306.50" x2="143.00" y2="306.50" stroke="#30ff30" stroke-width="1.0"/>
<line x1="156.50" y1="308.20" x2="156.50" y2="320.10" stroke="#30ff30" stroke-width="1.0"/>
<line x1="155.00" y1="308.50" x2="158.00" y2="308.50" stroke="#30ff30" stroke-width="1.0"/>
<line x1="155.00" y1="320.50" x2="158.00" y2="320.50" stroke="#30ff30" stroke-width="1.0"/>
<line x1="172.50" y1="324.40" x2="172.50" y2="332.20" stroke="#30ff30" stroke-width="1.0"/>
<line x1="171.00" y1="324.50" x2="174.00" y2="324.50" stroke="#30ff30" stroke-width="1.0"/>
<line x1="171.00" y1="332.50" x2="174.00" y2="332.50" stroke="#30ff30" stroke-width="1.0"/>
<line x1="191.50" y1="339.80" x2="191.50" y2="344.00" stroke="#30ff30" stroke-width="1.0"/>
<line x1="190.00" y1="339.50" x2="193.00" y2="339.50" stroke="#30ff30" stroke-width="1.0"/>
<line x1="190.00" y1="344.50" x2="193.00" y2="344.50" stroke="#30ff30" stroke-width="1.0"/>
<polyline points="64.50,319.00 83.50,309.80 99.50,300.40 114.50,295.30 127.50,296.50 141.50,301.50 156.50,313.60 172.50,327.20 191.50,341.30" fill="none" stroke="#00ff00" stroke-width="1.2" stroke-linejoin="round"/>
<circle cx="64.50" cy="319.00" r="1.6" fill="#00ff00"/>
<circle cx="83.50" cy="309.80" r="1.6" fill="#00ff00"/>
<circle cx="99.50" cy="300.40" r="1.6" fill="#00ff00"/>
<circle cx="114.50" cy="295.30" r="1.6" fill="#00ff00"/>
<circle cx="127.50" cy="296.50" r="1.6" fill="#00ff00"/>
<circle cx="141.50" cy="301.50" r="1.6" fill="#00ff00"/>
<circle cx="156.50" cy="313.60" r="1.6" fill="#00ff00"/>
<circle cx="172.50" cy="327.20" r="1.6" fill="#00ff00"/>
<circle cx="191.50" cy="341.30" r="1.6" fill="#00ff00"/>
<line x1="68.50" y1="279.00" x2="68.50" y2="295.20" stroke="#ff3030" stroke-width="1.0"/>
<line x1="67.00" y1="279.50" x2="70.00" y2="279.50" stroke="#ff3030" stroke-width="1.0"/>
<line x1="67.00" y1="295.50" x2="70.00" y2="295.50" stroke="#ff3030" stroke-width="1.0"/>
<line x1="86.50" y1="268.20" x2="86.50" y2="288.40" stroke="#ff3030" stroke-width="1.0"/>
<line x1="85.00" y1="268.50" x2="88.00" y2="268.50" stroke="#ff3030" stroke-width="1.0"/>
<line x1="85.00" y1="288.50" x2="88.00" y2="288.50" stroke="#ff3030" stroke-width="1.0"/>
<line x1="101.50" y1="248.20" x2="101.50" y2="275.20" stroke="#ff3030" stroke-width="1.0"/>
<line x1="100.00" y1="248.50" x2="103.00" y2="248.50" stroke="#ff3030" stroke-width="1.0"/>
<line x1="100.00" y1="275.50" x2="103.00" y2="275.50" stroke="#ff3030" stroke-width="1.0"/>
<line x1="115.50" y1="241.60" x2="115.50" y2="268.70" stroke="#ff3030" stroke-width="1.0"/>
<line x1="114.00" y1="241.50" x2="117.00" y2="241.50" stroke="#ff3030" stroke-width="1.0"/>
<line x1="114.00" y1="268.50" x2="117.00" y2="268.50" stroke="#ff3030" stroke-width="1.0"/>
<line x1="128.50" y1="229.20" x2="128.50" y2="283.10" stroke="#ff3030" stroke-width="1.0"/>
<line x1="127.00" y1="229.50" x2="130.00" y2="229.50" stroke="#ff3030" stroke-width="1.0"/>
<line x1="127.00" y1="283.50" x2="130.00" y2="283.50" stroke="#ff3030" stroke-width="1.0"/>
<line x1="140.50" y1="262.40" x2="140.50" y2="282.40" stroke="#ff3030" stroke-width="1.0"/>
<line x1="139.00" y1="262.50" x2="142.00" y2="262.50" stroke="#ff3030" stroke-width="1.0"/>
<line x1="139.00" y1="282.50" x2="142.00" y2="282.50" stroke="#ff3030" stroke-width="1.0"/>
<line x1="154.50" y1="266.40" x2="154.50" y2="290.30" stroke="#ff3030" stroke-width="1.0"/>
<line x1="153.00" y1="266.50" x2="156.00" y2="266.50" stroke="#ff3030" stroke-width="1.0"/>
<line x1="153.00" y1="290.50" x2="156.00" y2="290.50" stroke="#ff3030" stroke-width="1.0"/>
<line x1="169.50" y1="280.20" x2="169.50" y2="303.30" stroke="#ff3030" stroke-width="1.0"/>
<line x1="168.00" y1="280.50" x2="171.00" y2="280.50" stroke="#ff3030" stroke-width="1.0"/>
<line x1="168.00" y1="303.50" x2="171.00" y2="303.50" stroke="#ff3030" stroke-width="1.0"/>
<line x1="187.50" y1="297.00" x2="187.50" y2="325.60" stroke="#ff3030" stroke-width="1.0"/>
<line x1="186.00" y1="297.50" x2="189.00" y2="297.50" stroke="#ff3030" stroke-width="1.0"/>
<line x1="186.00" y1="325.50" x2="189.00" y2="325.50" stroke="#ff3030" stroke-width="1.0"/>
<line x1="185.50" y1="311.40" x2="189.50" y2="311.40" stroke="#ff3030" stroke-width="1.0"/>
<line x1="185.50" y1="309.90" x2="185.50" y2="312.90" stroke="#ff3030" stroke-width="1.0"/>
<line x1="189.50" y1="309.90" x2="189.50" y2="312.90" stroke="#ff3030" stroke-width="1.0"/>
<polyline points="68.50,287.20 86.50,278.30 101.50,262.00 115.50,255.40 128.50,256.10 140.50,272.30 154.50,278.30 169.50,292.00 187.50,311.40" fill="none" stroke="#ff0000" stroke-width="1.2" stroke-linejoin="round"/>
<circle cx="68.50" cy="287.20" r="1.6" fill="#ff0000"/>
<circle cx="86.50" cy="278.30" r="1.6" fill="#ff0000"/>
<circle cx="101.50" cy="262.00" r="1.6" fill="#ff0000"/>
<circle cx="115.50" cy="255.40" r="1.6" fill="#ff0000"/>
<circle cx="128.50" cy="256.10" r="1.6" fill="#ff0000"/>
<circle cx="140.50" cy="272.30" r="1.6" fill="#ff0000"/>
<circle cx="154.50" cy="278.30" r="1.6" fill="#ff0000"/>
<circle cx="169.50" cy="292.00" r="1.6" fill="#ff0000"/>
<circle cx="187.50" cy="311.40" r="1.6" fill="#ff0000"/>
<line x1="64.50" y1="315.70" x2="64.50" y2="322.40" stroke="#2828ff" stroke-width="1.0"/>
<line x1="63.00" y1="315.50" x2="66.00" y2="315.50" stroke="#2828ff" stroke-width="1.0"/>
<line x1="63.00" y1="322.50" x2="66.00" y2="322.50" stroke="#2828ff" stroke-width="1.0"/>
<line x1="83.50" y1="305.90" x2="83.50" y2="314.90" stroke="#2828ff" stroke-width="1.0"/>
<line x1="82.00" y1="305.50" x2="85.00" y2="305.50" stroke="#2828ff" stroke-width="1.0"/>
<line x1="82.00" y1="314.50" x2="85.00" y2="314.50" stroke="#2828ff" stroke-width="1.0"/>
<line x1="99.50" y1="295.60" x2="99.50" y2="306.50" stroke="#2828ff" stroke-width="1.0"/>
<line x1="98.00" y1="295.50" x2="101.00" y2="295.50" stroke="#2828ff" stroke-width="1.0"/>
<line x1="98.00" y1="306.50" x2="101.00" y2="306.50" stroke="#2828ff" stroke-width="1.0"/>
<line x1="114.50" y1="289.40" x2="114.50" y2="301.90" stroke="#2828ff" stroke-width="1.0"/>
<line x1="113.00" y1="289.50" x2="116.00" y2="289.50" stroke="#2828ff" stroke-width="1.0"/>
<line x1="113.00" y1="301.50" x2="116.00" y2="301.50" stroke="#2828ff" stroke-width="1.0"/>
<line x1="127.50" y1="291.40" x2="127.50" y2="301.50" stroke="#2828ff" stroke-width="1.0"/>
<line x1="126.00" y1="291.50" x2="129.00" y2="291.50" stroke="#2828ff" stroke-width="1.0"/>
<line x1="126.00" y1="301.50" x2="129.00" y2="301.50" stroke="#2828ff" stroke-width="1.0"/>
<line x1="141.50" y1="298.20" x2="141.50" y2="305.40" stroke="#2828ff" stroke-width="1.0"/>
<line x1="140.00" y1="298.50" x2="143.00" y2="298.50" stroke="#2828ff" stroke-width="1.0"/>
<line x1="140.00" y1="305.50" x2="143.00" y2="305.50" stroke="#2828ff" stroke-width="1.0"/>
<line x1="156.50" y1="309.10" x2="156.50" y2="318.70" stroke="#2828ff" stroke-width="1.0"/>
<line x1="155.00" y1="309.50" x2="158.00" y2="309.50" stroke="#2828ff" stroke-width="1.0"/>
<line x1="155.00" y1="318.50" x2="158.00" y2="318.50" stroke="#2828ff" stroke-width="1.0"/>
<line x1="172.50" y1="324.10" x2="172.50" y2="330.70" stroke="#2828ff" stroke-width="1.0"/>
<line x1="171.00" y1="324.50" x2="174.00" y2="324.50" stroke="#2828ff" stroke-width="1.0"/>
<line x1="171.00" y1="330.50" x2="174.00" y2="330.50" stroke="#2828ff" stroke-width="1.0"/>
<line x1="191.50" y1="340.30" x2="191.50" y2="343.50" stroke="#2828ff" stroke-width="1.0"/>
<line x1="190.00" y1="340.50" x2="193.00" y2="340.50" stroke="#2828ff" stroke-width="1.0"/>
<line x1="190.00" y1="343.50" x2="193.00" y2="343.50" stroke="#2828ff" stroke-width="1.0"/>
<polyline points="64.50,319.20 83.50,310.10 99.50,300.70 114.50,295.60 127.50,296.70 141.50,301.80 156.50,313.80 172.50,327.40 191.50,341.50" fill="none" stroke="#0000ff" stroke-width="1.2" stroke-linejoin="round"/>
<circle cx="64.50" cy="319.20" r="1.6" fill="#0000ff"/>
<circle cx="83.50" cy="310.10" r="1.6" fill="#0000ff"/>
<circle cx="99.50" cy="300.70" r="1.6" fill="#0000ff"/>
<circle cx="114.50" cy="295.60" r="1.6" fill="#0000ff"/>
<circle cx="127.50" cy="296.70" r="1.6" fill="#0000ff"/>
<circle cx="141.50" cy="301.80" r="1.6" fill="#0000ff"/>
<circle cx="156.50" cy="313.80" r="1.6" fill="#0000ff"/>
<circle cx="172.50" cy="327.40" r="1.6" fill="#0000ff"/>
<circle cx="191.50" cy="341.50" r="1.6" fill="#0000ff"/>
<line x1="285.50" y1="292.00" x2="285.50" y2="293.00" stroke="#30ff30" stroke-width="1.0"/>
<line x1="284.00" y1="292.50" x2="287.00" y2="292.50" stroke="#30ff30" stroke-width="1.0"/>
<line x1="284.00" y1="293.50" x2="287.00" y2="293.50" stroke="#30ff30" stroke-width="1.0"/>
<line x1="303.50" y1="292.00" x2="303.50" y2="293.00" stroke="#30ff30" stroke-width="1.0"/>
<line x1="302.00" y1="292.50" x2="305.00" y2="292.50" stroke="#30ff30" stroke-width="1.0"/>
<line x1="302.00" y1="293.50" x2="305.00" y2="293.50" stroke="#30ff30" stroke-width="1.0"/>
<line x1="319.50" y1="292.00" x2="319.50" y2="293.00" stroke="#30ff30" stroke-width="1.0"/>
<line x1="318.00" y1="292.50" x2="321.00" y2="292.50" stroke="#30ff30" stroke-width="1.0"/>
<line x1="318.00" y1="293.50" x2="321.00" y2="293.50" stroke="#30ff30" stroke-width="1.0"/>
<line x1="334.50" y1="292.00" x2="334.50" y2="293.00" stroke="#30ff30" stroke-width="1.0"/>
<line x1="333.00" y1="292.50" x2="336.00" y2="292.50" stroke="#30ff30" stroke-width="1.0"/>
<line x1="333.00" y1="293.50" x2="336.00" y2="293.50" stroke="#30ff30" stroke-width="1.0"/>
<line x1="347.50" y1="292.00" x2="347.50" y2="293.00" stroke="#30ff30" stroke-width="1.0"/>
<line x1="346.00" y1="292.50" x2="349.00" y2="292.50" stroke="#30ff30" stroke-width="1.0"/>
<line x1="346.00" y1="293.50" x2="349.00" y2="293.50" stroke="#30ff30" stroke-width="1.0"/>
<line x1="361.50" y1="292.00" x2="361.50" y2="293.00" stroke="#30ff30" stroke-width="1.0"/>
<line x1="360.00" y1="292.50" x2="363.00" y2="292.50" stroke="#30ff30" stroke-width="1.0"/>
<line x1="360.00" y1="293.50" x2="363.00" y2="293.50" stroke="#30ff30" stroke-width="1.0"/>
<line x1="376.50" y1="292.00" x2="376.50" y2="293.00" stroke="#30ff30" stroke-width="1.0"/>
<line x1="375.00" y1="292.50" x2="378.00" y2="292.50" stroke="#30ff30" stroke-width="1.0"/>
<line x1="375.00" y1="293.50" x2="378.00" y2="293.50" stroke="#30ff30" stroke-width="1.0"/>
<line x1="393.50" y1="292.00" x2="393.50" y2="293.00" stroke="#30ff30" stroke-width="1.0"/>
<line x1="392.00" y1="292.50" x2="395.00" y2="292.50" stroke="#30ff30" stroke-width="1.0"/>
<line x1="392.00" y1="293.50" x2="395.00" y2="293.50" stroke="#30ff30" stroke-width="1.0"/>
<line x1="412.50" y1="292.00" x2="412.50" y2="293.00" stroke="#30ff30" stroke-width="1.0"/>
<line x1="411.00" y1="292.50" x2="414.00" y2="292.50" stroke="#30ff30" stroke-width="1.0"/>
<line x1="411.00" y1="293.50" x2="414.00" y2="293.50" stroke="#30ff30" stroke-width="1.0"/>
<polyline points="285.50,292.50 303.50,292.50 319.50,292.50 334.50,292.50 347.50,292.50 361.50,292.50 376.50,292.50 393.50,292.50 412.50,292.50" fill="none" stroke="#00ff00" stroke-width="1.2" stroke-linejoin="round"/>
<circle cx="285.50" cy="292.50" r="1.6" fill="#00ff00"/>
<circle cx="303.50" cy="292.50" r="1.6" fill="#00ff00"/>
<circle cx="319.50" cy="292.50" r="1.6" fill="#00ff00"/>
<circle cx="334.50" cy="292.50" r="1.6" fill="#00ff00"/>
<circle cx="347.50" cy="292.50" r="1.6" fill="#00ff00"/>
<circle cx="361.50" cy="292.50" r="1.6" fill="#00ff00"/>
<circle cx="376.50" cy="292.50" r="1.6" fill="#00ff00"/>
<circle cx="393.50" cy="292.50" r="1.6" fill="#00ff00"/>
<circle cx="412.50" cy="292.50" r="1.6" fill="#00ff00"/>
<line x1="288.50" y1="276.50" x2="288.50" y2="287.50" stroke="#ff3030" stroke-width="1.0"/>
<line x1="287.00" y1="276.50" x2="290.00" y2="276.50" stroke="#ff3030" stroke-width="1.0"/>
<line x1="287.00" y1="287.50" x2="290.00" y2="287.50" stroke="#ff3030" stroke-width="1.0"/>
<line x1="306.50" y1="290.80" x2="306.50" y2="307.00" stroke="#ff3030" stroke-width="1.0"/>
<line x1="305.00" y1="290.50" x2="308.00" y2="290.50" stroke="#ff3030" stroke-width="1.0"/>
<line x1="305.00" y1="307.50" x2="308.00" y2="307.50" stroke="#ff3030" stroke-width="1.0"/>
<line x1="322.50" y1="303.30" x2="322.50" y2="326.00" stroke="#ff3030" stroke-width="1.0"/>
<line x1="321.00" y1="303.50" x2="324.00" y2="303.50" stroke="#ff3030" stroke-width="1.0"/>
<line x1="321.00" y1="326.50" x2="324.00" y2="326.50" stroke="#ff3030" stroke-width="1.0"/>
<line x1="335.50" y1="309.10" x2="335.50" y2="327.20" stroke="#ff3030" stroke-width="1.0"/>
<line x1="334.00" y1="309.50" x2="337.00" y2="309.50" stroke="#ff3030" stroke-width="1.0"/>
<line x1="334.00" y1="327.50" x2="337.00" y2="327.50" stroke="#ff3030" stroke-width="1.0"/>
<line x1="348.50" y1="308.40" x2="348.50" y2="333.20" stroke="#ff3030" stroke-width="1.0"/>
<line x1="347.00" y1="308.50" x2="350.00" y2="308.50" stroke="#ff3030" stroke-width="1.0"/>
<line x1="347.00" y1="333.50" x2="350.00" y2="333.50" stroke="#ff3030" stroke-width="1.0"/>
<line x1="360.50" y1="303.10" x2="360.50" y2="327.20" stroke="#ff3030" stroke-width="1.0"/>
<line x1="359.00" y1="303.50" x2="362.00" y2="303.50" stroke="#ff3030" stroke-width="1.0"/>
<line x1="359.00" y1="327.50" x2="362.00" y2="327.50" stroke="#ff3030" stroke-width="1.0"/>
<line x1="374.50" y1="296.40" x2="374.50" y2="311.50" stroke="#ff3030" stroke-width="1.0"/>
<line x1="373.00" y1="296.50" x2="376.00" y2="296.50" stroke="#ff3030" stroke-width="1.0"/>
<line x1="373.00" y1="311.50" x2="376.00" y2="311.50" stroke="#ff3030" stroke-width="1.0"/>
<line x1="389.50" y1="280.70" x2="389.50" y2="293.80" stroke="#ff3030" stroke-width="1.0"/>
<line x1="388.00" y1="280.50" x2="391.00" y2="280.50" stroke="#ff3030" stroke-width="1.0"/>
<line x1="388.00" y1="293.50" x2="391.00" y2="293.50" stroke="#ff3030" stroke-width="1.0"/>
<line x1="407.50" y1="262.70" x2="407.50" y2="269.40" stroke="#ff3030" stroke-width="1.0"/>
<line x1="406.00" y1="262.50" x2="409.00" y2="262.50" stroke="#ff3030" stroke-width="1.0"/>
<line x1="406.00" y1="269.50" x2="409.00" y2="269.50" stroke="#ff3030" stroke-width="1.0"/>
<line x1="405.80" y1="266.30" x2="409.80" y2="266.30" stroke="#ff3030" stroke-width="1.0"/>
<line x1="405.50" y1="264.80" x2="405.50" y2="267.80" stroke="#ff3030" stroke-width="1.0"/>
<line x1="409.50" y1="264.80" x2="409.50" y2="267.80" stroke="#ff3030" stroke-width="1.0"/>
<polyline points="288.50,282.00 306.50,299.20 322.50,314.70 335.50,318.00 348.50,320.70 360.50,315.20 374.50,303.80 389.50,287.30 407.50,266.30" fill="none" stroke="#ff0000" stroke-width="1.2" stroke-linejoin="round"/>
<circle cx="288.50" cy="282.00" r="1.6" fill="#ff0000"/>
<circle cx="306.50" cy="299.20" r="1.6" fill="#ff0000"/>
<circle cx="322.50" cy="314.70" r="1.6" fill="#ff0000"/>
<circle cx="335.50" cy="318.00" r="1.6" fill="#ff0000"/>
<circle cx="348.50" cy="320.70" r="1.6" fill="#ff0000"/>
<circle cx="360.50" cy="315.20" r="1.6" fill="#ff0000"/>
<circle cx="374.50" cy="303.80" r="1.6" fill="#ff0000"/>
<circle cx="389.50" cy="287.30" r="1.6" fill="#ff0000"/>
<circle cx="407.50" cy="266.30" r="1.6" fill="#ff0000"/>
<line x1="285.50" y1="284.00" x2="285.50" y2="288.00" stroke="#2828ff" stroke-width="1.0"/>
<line x1="284.00" y1="284.50" x2="287.00" y2="284.50" stroke="#2828ff" stroke-width="1.0"/>
<line x1="284.00" y1="288.50" x2="287.00" y2="288.50" stroke="#2828ff" stroke-width="1.0"/>
<line x1="303.50" y1="287.80" x2="303.50" y2="291.80" stroke="#2828ff" stroke-width="1.0"/>
<line x1="302.00" y1="287.50" x2="305.00" y2="287.50" stroke="#2828ff" stroke-width="1.0"/>
<line x1="302.00" y1="291.50" x2="305.00" y2="291.50" stroke="#2828ff" stroke-width="1.0"/>
<line x1="319.50" y1="290.40" x2="319.50" y2="294.40" stroke="#2828ff" stroke-width="1.0"/>
<line x1="318.00" y1="290.50" x2="321.00" y2="290.50" stroke="#2828ff" stroke-width="1.0"/>
<line x1="318.00" y1="294.50" x2="321.00" y2="294.50" stroke="#2828ff" stroke-width="1.0"/>
<line x1="334.50" y1="292.40" x2="334.50" y2="296.40" stroke="#2828ff" stroke-width="1.0"/>
<line x1="333.00" y1="292.50" x2="336.00" y2="292.50" stroke="#2828ff" stroke-width="1.0"/>
<line x1="333.00" y1="296.50" x2="336.00" y2="296.50" stroke="#2828ff" stroke-width="1.0"/>
<line x1="347.50" y1="292.40" x2="347.50" y2="296.40" stroke="#2828ff" stroke-width="1.0"/>
<line x1="346.00" y1="292.50" x2="349.00" y2="292.50" stroke="#2828ff" stroke-width="1.0"/>
<line x1="346.00" y1="296.50" x2="349.00" y2="296.50" stroke="#2828ff" stroke-width="1.0"/>
<line x1="361.50" y1="291.00" x2="361.50" y2="295.00" stroke="#2828ff" stroke-width="1.0"/>
<line x1="360.00" y1="291.50" x2="363.00" y2="291.50" stroke="#2828ff" stroke-width="1.0"/>
<line x1="360.00" y1="295.50" x2="363.00" y2="295.50" stroke="#2828ff" stroke-width="1.0"/>
<line x1="376.50" y1="287.90" x2="376.50" y2="291.90" stroke="#2828ff" stroke-width="1.0"/>
<line x1="375.00" y1="287.50" x2="378.00" y2="287.50" stroke="#2828ff" stroke-width="1.0"/>
<line x1="375.00" y1="291.50" x2="378.00" y2="291.50" stroke="#2828ff" stroke-width="1.0"/>
<line x1="393.50" y1="283.10" x2="393.50" y2="287.10" stroke="#2828ff" stroke-width="1.0"/>
<line x1="392.00" y1="283.50" x2="395.00" y2="283.50" stroke="#2828ff" stroke-width="1.0"/>
<line x1="392.00" y1="287.50" x2="395.00" y2="287.50" stroke="#2828ff" stroke-width="1.0"/>
<line x1="412.50" y1="277.50" x2="412.50" y2="281.50" stroke="#2828ff" stroke-width="1.0"/>
<line x1="411.00" y1="277.50" x2="414.00" y2="277.50" stroke="#2828ff" stroke-width="1.0"/>
<line x1="411.00" y1="281.50" x2="414.00" y2="281.50" stroke="#2828ff" stroke-width="1.0"/>
<polyline points="285.50,286.00 303.50,289.80 319.50,292.40 334.50,294.40 347.50,294.40 361.50,293.00 376.50,289.90 393.50,285.10 412.50,279.50" fill="none" stroke="#0000ff" stroke-width="1.2" stroke-linejoin="round"/>
<circle cx="285.50" cy="286.00" r="1.6" fill="#0000ff"/>
<circle cx="303.50" cy="289.80" r="1.6" fill="#0000ff"/>
<circle cx="319.50" cy="292.40" r="1.6" fill="#0000ff"/>
<circle cx="334.50" cy="294.40" r="1.6" fill="#0000ff"/>
<circle cx="347.50" cy="294.40" r="1.6" fill="#0000ff"/>
<circle cx="361.50" cy="293.00" r="1.6" fill="#0000ff"/>
<circle cx="376.50" cy="289.90" r="1.6" fill="#0000ff"/>
<circle cx="393.50" cy="285.10" r="1.6" fill="#0000ff"/>
<circle cx="412.50" cy="279.50" r="1.6" fill="#0000ff"/>
<line x1="512.29" y1="104.60" x2="524.65" y2="104.60" stroke="#30ff30" stroke-width="1.0"/>
<line x1="512.29" y1="103.10" x2="512.29" y2="106.10" stroke="#30ff30" stroke-width="1.0"/>
<line x1="524.65" y1="103.10" x2="524.65" y2="106.10" stroke="#30ff30" stroke-width="1.0"/>
<line x1="517.77" y1="97.30" x2="517.77" y2="112.00" stroke="#30ff30" stroke-width="1.0"/>
<line x1="516.27" y1="97.30" x2="519.27" y2="97.30" stroke="#30ff30" stroke-width="1.0"/>
<line x1="516.27" y1="112.00" x2="519.27" y2="112.00" stroke="#30ff30" stroke-width="1.0"/>
<line x1="519.94" y1="103.50" x2="539.05" y2="103.50" stroke="#30ff30" stroke-width="1.0"/>
<line x1="519.94" y1="102.00" x2="519.94" y2="105.00" stroke="#30ff30" stroke-width="1.0"/>
<line x1="539.05" y1="102.00" x2="539.05" y2="105.00" stroke="#30ff30" stroke-width="1.0"/>
<line x1="528.86" y1="91.90" x2="528.86" y2="115.00" stroke="#30ff30" stroke-width="1.0"/>
<line x1="527.36" y1="91.90" x2="530.36" y2="91.90" stroke="#30ff30" stroke-width="1.0"/>
<line x1="527.36" y1="115.00" x2="530.36" y2="115.00" stroke="#30ff30" stroke-width="1.0"/>
<line x1="521.47" y1="95.50" x2="554.35" y2="95.50" stroke="#30ff30" stroke-width="1.0"/>
<line x1="521.47" y1="94.00" x2="521.47" y2="97.00" stroke="#30ff30" stroke-width="1.0"/>
<line x1="554.35" y1="94.00" x2="554.35" y2="97.00" stroke="#30ff30" stroke-width="1.0"/>
<line x1="537.78" y1="89.00" x2="537.78" y2="102.00" stroke="#30ff30" stroke-width="1.0"/>
<line x1="536.28" y1="89.00" x2="539.28" y2="89.00" stroke="#30ff30" stroke-width="1.0"/>
<line x1="536.28" y1="102.00" x2="539.28" y2="102.00" stroke="#30ff30" stroke-width="1.0"/>
<line x1="532.17" y1="91.00" x2="569.77" y2="91.00" stroke="#30ff30" stroke-width="1.0"/>
<line x1="532.17" y1="89.50" x2="532.17" y2="92.50" stroke="#30ff30" stroke-width="1.0"/>
<line x1="569.77" y1="89.50" x2="569.77" y2="92.50" stroke="#30ff30" stroke-width="1.0"/>
<line x1="550.40" y1="84.00" x2="550.40" y2="97.90" stroke="#30ff30" stroke-width="1.0"/>
<line x1="548.90" y1="84.00" x2="551.90" y2="84.00" stroke="#30ff30" stroke-width="1.0"/>
<line x1="548.90" y1="97.90" x2="551.90" y2="97.90" stroke="#30ff30" stroke-width="1.0"/>
<line x1="537.91" y1="92.50" x2="564.42" y2="92.50" stroke="#30ff30" stroke-width="1.0"/>
<line x1="537.91" y1="91.00" x2="537.91" y2="94.00" stroke="#30ff30" stroke-width="1.0"/>
<line x1="564.42" y1="91.00" x2="564.42" y2="94.00" stroke="#30ff30" stroke-width="1.0"/>
<line x1="551.29" y1="83.00" x2="551.29" y2="102.00" stroke="#30ff30" stroke-width="1.0"/>
<line x1="549.79" y1="83.00" x2="552.79" y2="83.00" stroke="#30ff30" stroke-width="1.0"/>
<line x1="549.79" y1="102.00" x2="552.79" y2="102.00" stroke="#30ff30" stroke-width="1.0"/>
<line x1="541.99" y1="88.00" x2="554.35" y2="88.00" stroke="#30ff30" stroke-width="1.0"/>
<line x1="541.99" y1="86.50" x2="541.99" y2="89.50" stroke="#30ff30" stroke-width="1.0"/>
<line x1="554.35" y1="86.50" x2="554.35" y2="89.50" stroke="#30ff30" stroke-width="1.0"/>
<line x1="548.23" y1="79.30" x2="548.23" y2="98.50" stroke="#30ff30" stroke-width="1.0"/>
<line x1="546.73" y1="79.30" x2="549.73" y2="79.30" stroke="#30ff30" stroke-width="1.0"/>
<line x1="546.73" y1="98.50" x2="549.73" y2="98.50" stroke="#30ff30" stroke-width="1.0"/>
<line x1="520.32" y1="96.00" x2="538.03" y2="96.00" stroke="#30ff30" stroke-width="1.0"/>
<line x1="520.32" y1="94.50" x2="520.32" y2="97.50" stroke="#30ff30" stroke-width="1.0"/>
<line x1="538.03" y1="94.50" x2="538.03" y2="97.50" stroke="#30ff30" stroke-width="1.0"/>
<line x1="528.48" y1="88.60" x2="528.48" y2="105.50" stroke="#30ff30" stroke-width="1.0"/>
<line x1="526.98" y1="88.60" x2="529.98" y2="88.60" stroke="#30ff30" stroke-width="1.0"/>
<line x1="526.98" y1="105.50" x2="529.98" y2="105.50" stroke="#30ff30" stroke-width="1.0"/>
<line x1="499.67" y1="104.90" x2="520.32" y2="104.90" stroke="#30ff30" stroke-width="1.0"/>
<line x1="499.67" y1="103.40" x2="499.67" y2="106.40" stroke="#30ff30" stroke-width="1.0"/>
<line x1="520.32" y1="103.40" x2="520.32" y2="106.40" stroke="#30ff30" stroke-width="1.0"/>
<line x1="509.61" y1="89.50" x2="509.61" y2="120.30" stroke="#30ff30" stroke-width="1.0"/>
<line x1="508.11" y1="89.50" x2="511.11" y2="89.50" stroke="#30ff30" stroke-width="1.0"/>
<line x1="508.11" y1="120.30" x2="511.11" y2="120.30" stroke="#30ff30" stroke-width="1.0"/>
<line x1="485.52" y1="107.00" x2="497.63" y2="107.00" stroke="#30ff30" stroke-width="1.0"/>
<line x1="485.52" y1="105.50" x2="485.52" y2="108.50" stroke="#30ff30" stroke-width="1.0"/>
<line x1="497.63" y1="105.50" x2="497.63" y2="108.50" stroke="#30ff30" stroke-width="1.0"/>
<line x1="491.26" y1="99.40" x2="491.26" y2="114.60" stroke="#30ff30" stroke-width="1.0"/>
<line x1="489.76" y1="99.40" x2="492.76" y2="99.40" stroke="#30ff30" stroke-width="1.0"/>
<line x1="489.76" y1="114.60" x2="492.76" y2="114.60" stroke="#30ff30" stroke-width="1.0"/>
<polyline points="517.77,104.60 528.86,103.50 537.78,95.50 550.40,91.00 551.29,92.50 548.23,88.00 528.48,96.00 509.61,104.90 491.26,107.00" fill="none" stroke="#00ff00" stroke-width="1.2" stroke-linejoin="round"/>
<line x1="545.55" y1="99.20" x2="577.93" y2="99.20" stroke="#ff3030" stroke-width="1.0"/>
<line x1="545.55" y1="97.70" x2="545.55" y2="100.70" stroke="#ff3030" stroke-width="1.0"/>
<line x1="577.93" y1="97.70" x2="577.93" y2="100.70" stroke="#ff3030" stroke-width="1.0"/>
<line x1="561.87" y1="77.00" x2="561.87" y2="121.80" stroke="#ff3030" stroke-width="1.0"/>
<line x1="560.37" y1="77.00" x2="563.37" y2="77.00" stroke="#ff3030" stroke-width="1.0"/>
<line x1="560.37" y1="121.80" x2="563.37" y2="121.80" stroke="#ff3030" stroke-width="1.0"/>
<line x1="563.27" y1="87.60" x2="582.52" y2="87.60" stroke="#ff3030" stroke-width="1.0"/>
<line x1="563.27" y1="86.10" x2="563.27" y2="89.10" stroke="#ff3030" stroke-width="1.0"/>
<line x1="582.52" y1="86.10" x2="582.52" y2="89.10" stroke="#ff3030" stroke-width="1.0"/>
<line x1="572.83" y1="73.90" x2="572.83" y2="101.80" stroke="#ff3030" stroke-width="1.0"/>
<line x1="571.33" y1="73.90" x2="574.33" y2="73.90" stroke="#ff3030" stroke-width="1.0"/>
<line x1="571.33" y1="101.80" x2="574.33" y2="101.80" stroke="#ff3030" stroke-width="1.0"/>
<line x1="568.62" y1="80.20" x2="597.68" y2="80.20" stroke="#ff3030" stroke-width="1.0"/>
<line x1="568.62" y1="78.70" x2="568.62" y2="81.70" stroke="#ff3030" stroke-width="1.0"/>
<line x1="597.68" y1="78.70" x2="597.68" y2="81.70" stroke="#ff3030" stroke-width="1.0"/>
<line x1="583.15" y1="58.00" x2="583.15" y2="102.10" stroke="#ff3030" stroke-width="1.0"/>
<line x1="581.65" y1="58.00" x2="584.65" y2="58.00" stroke="#ff3030" stroke-width="1.0"/>
<line x1="581.65" y1="102.10" x2="584.65" y2="102.10" stroke="#ff3030" stroke-width="1.0"/>
<line x1="565.06" y1="74.20" x2="598.83" y2="74.20" stroke="#ff3030" stroke-width="1.0"/>
<line x1="565.06" y1="72.70" x2="565.06" y2="75.70" stroke="#ff3030" stroke-width="1.0"/>
<line x1="598.83" y1="72.70" x2="598.83" y2="75.70" stroke="#ff3030" stroke-width="1.0"/>
<line x1="581.88" y1="54.00" x2="581.88" y2="94.10" stroke="#ff3030" stroke-width="1.0"/>
<line x1="580.38" y1="54.00" x2="583.38" y2="54.00" stroke="#ff3030" stroke-width="1.0"/>
<line x1="580.38" y1="94.10" x2="583.38" y2="94.10" stroke="#ff3030" stroke-width="1.0"/>
<line x1="572.70" y1="71.60" x2="605.46" y2="71.60" stroke="#ff3030" stroke-width="1.0"/>
<line x1="572.70" y1="70.10" x2="572.70" y2="73.10" stroke="#ff3030" stroke-width="1.0"/>
<line x1="605.46" y1="70.10" x2="605.46" y2="73.10" stroke="#ff3030" stroke-width="1.0"/>
<line x1="589.14" y1="54.40" x2="589.14" y2="89.30" stroke="#ff3030" stroke-width="1.0"/>
<line x1="587.64" y1="54.40" x2="590.64" y2="54.40" stroke="#ff3030" stroke-width="1.0"/>
<line x1="587.64" y1="89.30" x2="590.64" y2="89.30" stroke="#ff3030" stroke-width="1.0"/>
<line x1="583.15" y1="62.60" x2="602.91" y2="62.60" stroke="#ff3030" stroke-width="1.0"/>
<line x1="583.15" y1="61.10" x2="583.15" y2="64.10" stroke="#ff3030" stroke-width="1.0"/>
<line x1="602.91" y1="61.10" x2="602.91" y2="64.10" stroke="#ff3030" stroke-width="1.0"/>
<line x1="593.10" y1="45.20" x2="593.10" y2="79.70" stroke="#ff3030" stroke-width="1.0"/>
<line x1="591.60" y1="45.20" x2="594.60" y2="45.20" stroke="#ff3030" stroke-width="1.0"/>
<line x1="591.60" y1="79.70" x2="594.60" y2="79.70" stroke="#ff3030" stroke-width="1.0"/>
<line x1="551.16" y1="79.90" x2="612.98" y2="79.90" stroke="#ff3030" stroke-width="1.0"/>
<line x1="551.16" y1="78.40" x2="551.16" y2="81.40" stroke="#ff3030" stroke-width="1.0"/>
<line x1="612.98" y1="78.40" x2="612.98" y2="81.40" stroke="#ff3030" stroke-width="1.0"/>
<line x1="582.01" y1="55.20" x2="582.01" y2="105.30" stroke="#ff3030" stroke-width="1.0"/>
<line x1="580.51" y1="55.20" x2="583.51" y2="55.20" stroke="#ff3030" stroke-width="1.0"/>
<line x1="580.51" y1="105.30" x2="583.51" y2="105.30" stroke="#ff3030" stroke-width="1.0"/>
<line x1="530.77" y1="106.80" x2="572.07" y2="106.80" stroke="#ff3030" stroke-width="1.0"/>
<line x1="530.77" y1="105.30" x2="530.77" y2="108.30" stroke="#ff3030" stroke-width="1.0"/>
<line x1="572.07" y1="105.30" x2="572.07" y2="108.30" stroke="#ff3030" stroke-width="1.0"/>
<line x1="551.29" y1="96.60" x2="551.29" y2="117.00" stroke="#ff3030" stroke-width="1.0"/>
<line x1="549.79" y1="96.60" x2="552.79" y2="96.60" stroke="#ff3030" stroke-width="1.0"/>
<line x1="549.79" y1="117.00" x2="552.79" y2="117.00" stroke="#ff3030" stroke-width="1.0"/>
<line x1="524.27" y1="116.20" x2="552.18" y2="116.20" stroke="#ff3030" stroke-width="1.0"/>
<line x1="524.27" y1="114.70" x2="524.27" y2="117.70" stroke="#ff3030" stroke-width="1.0"/>
<line x1="552.18" y1="114.70" x2="552.18" y2="117.70" stroke="#ff3030" stroke-width="1.0"/>
<line x1="538.29" y1="96.00" x2="538.29" y2="136.20" stroke="#ff3030" stroke-width="1.0"/>
<line x1="536.79" y1="96.00" x2="539.79" y2="96.00" stroke="#ff3030" stroke-width="1.0"/>
<line x1="536.79" y1="136.20" x2="539.79" y2="136.20" stroke="#ff3030" stroke-width="1.0"/>
<polyline points="561.87,99.20 572.83,87.60 583.15,80.20 581.88,74.20 589.14,71.60 593.10,62.60 582.01,79.90 551.29,106.80 538.29,116.20" fill="none" stroke="#ff0000" stroke-width="1.2" stroke-linejoin="round"/>
<line x1="512.29" y1="104.80" x2="524.01" y2="104.80" stroke="#2828ff" stroke-width="1.0"/>
<line x1="512.29" y1="103.30" x2="512.29" y2="106.30" stroke="#2828ff" stroke-width="1.0"/>
<line x1="524.01" y1="103.30" x2="524.01" y2="106.30" stroke="#2828ff" stroke-width="1.0"/>
<line x1="518.28" y1="94.30" x2="518.28" y2="115.80" stroke="#2828ff" stroke-width="1.0"/>
<line x1="516.78" y1="94.30" x2="519.78" y2="94.30" stroke="#2828ff" stroke-width="1.0"/>
<line x1="516.78" y1="115.80" x2="519.78" y2="115.80" stroke="#2828ff" stroke-width="1.0"/>
<line x1="521.47" y1="103.90" x2="538.80" y2="103.90" stroke="#2828ff" stroke-width="1.0"/>
<line x1="521.47" y1="102.40" x2="521.47" y2="105.40" stroke="#2828ff" stroke-width="1.0"/>
<line x1="538.80" y1="102.40" x2="538.80" y2="105.40" stroke="#2828ff" stroke-width="1.0"/>
<line x1="529.62" y1="92.10" x2="529.62" y2="115.30" stroke="#2828ff" stroke-width="1.0"/>
<line x1="528.12" y1="92.10" x2="531.12" y2="92.10" stroke="#2828ff" stroke-width="1.0"/>
<line x1="528.12" y1="115.30" x2="531.12" y2="115.30" stroke="#2828ff" stroke-width="1.0"/>
<line x1="521.59" y1="95.80" x2="554.09" y2="95.80" stroke="#2828ff" stroke-width="1.0"/>
<line x1="521.59" y1="94.30" x2="521.59" y2="97.30" stroke="#2828ff" stroke-width="1.0"/>
<line x1="554.09" y1="94.30" x2="554.09" y2="97.30" stroke="#2828ff" stroke-width="1.0"/>
<line x1="537.78" y1="89.20" x2="537.78" y2="102.40" stroke="#2828ff" stroke-width="1.0"/>
<line x1="536.28" y1="89.20" x2="539.28" y2="89.20" stroke="#2828ff" stroke-width="1.0"/>
<line x1="536.28" y1="102.40" x2="539.28" y2="102.40" stroke="#2828ff" stroke-width="1.0"/>
<line x1="532.17" y1="91.20" x2="565.82" y2="91.20" stroke="#2828ff" stroke-width="1.0"/>
<line x1="532.17" y1="89.70" x2="532.17" y2="92.70" stroke="#2828ff" stroke-width="1.0"/>
<line x1="565.82" y1="89.70" x2="565.82" y2="92.70" stroke="#2828ff" stroke-width="1.0"/>
<line x1="549.63" y1="81.50" x2="549.63" y2="101.20" stroke="#2828ff" stroke-width="1.0"/>
<line x1="548.13" y1="81.50" x2="551.13" y2="81.50" stroke="#2828ff" stroke-width="1.0"/>
<line x1="548.13" y1="101.20" x2="551.13" y2="101.20" stroke="#2828ff" stroke-width="1.0"/>
<line x1="540.58" y1="92.90" x2="563.40" y2="92.90" stroke="#2828ff" stroke-width="1.0"/>
<line x1="540.58" y1="91.40" x2="540.58" y2="94.40" stroke="#2828ff" stroke-width="1.0"/>
<line x1="563.40" y1="91.40" x2="563.40" y2="94.40" stroke="#2828ff" stroke-width="1.0"/>
<line x1="552.05" y1="82.60" x2="552.05" y2="103.80" stroke="#2828ff" stroke-width="1.0"/>
<line x1="550.55" y1="82.60" x2="553.55" y2="82.60" stroke="#2828ff" stroke-width="1.0"/>
<line x1="550.55" y1="103.80" x2="553.55" y2="103.80" stroke="#2828ff" stroke-width="1.0"/>
<line x1="543.01" y1="87.80" x2="554.99" y2="87.80" stroke="#2828ff" stroke-width="1.0"/>
<line x1="543.01" y1="86.30" x2="543.01" y2="89.30" stroke="#2828ff" stroke-width="1.0"/>
<line x1="554.99" y1="86.30" x2="554.99" y2="89.30" stroke="#2828ff" stroke-width="1.0"/>
<line x1="548.87" y1="79.00" x2="548.87" y2="97.30" stroke="#2828ff" stroke-width="1.0"/>
<line x1="547.37" y1="79.00" x2="550.37" y2="79.00" stroke="#2828ff" stroke-width="1.0"/>
<line x1="547.37" y1="97.30" x2="550.37" y2="97.30" stroke="#2828ff" stroke-width="1.0"/>
<line x1="520.32" y1="96.60" x2="538.03" y2="96.60" stroke="#2828ff" stroke-width="1.0"/>
<line x1="520.32" y1="95.10" x2="520.32" y2="98.10" stroke="#2828ff" stroke-width="1.0"/>
<line x1="538.03" y1="95.10" x2="538.03" y2="98.10" stroke="#2828ff" stroke-width="1.0"/>
<line x1="528.86" y1="88.10" x2="528.86" y2="104.80" stroke="#2828ff" stroke-width="1.0"/>
<line x1="527.36" y1="88.10" x2="530.36" y2="88.10" stroke="#2828ff" stroke-width="1.0"/>
<line x1="527.36" y1="104.80" x2="530.36" y2="104.80" stroke="#2828ff" stroke-width="1.0"/>
<line x1="500.05" y1="109.40" x2="519.04" y2="109.40" stroke="#2828ff" stroke-width="1.0"/>
<line x1="500.05" y1="107.90" x2="500.05" y2="110.90" stroke="#2828ff" stroke-width="1.0"/>
<line x1="519.04" y1="107.90" x2="519.04" y2="110.90" stroke="#2828ff" stroke-width="1.0"/>
<line x1="509.87" y1="88.40" x2="509.87" y2="130.20" stroke="#2828ff" stroke-width="1.0"/>
<line x1="508.37" y1="88.40" x2="511.37" y2="88.40" stroke="#2828ff" stroke-width="1.0"/>
<line x1="508.37" y1="130.20" x2="511.37" y2="130.20" stroke="#2828ff" stroke-width="1.0"/>
<line x1="485.52" y1="115.50" x2="497.12" y2="115.50" stroke="#2828ff" stroke-width="1.0"/>
<line x1="485.52" y1="114.00" x2="485.52" y2="117.00" stroke="#2828ff" stroke-width="1.0"/>
<line x1="497.12" y1="114.00" x2="497.12" y2="117.00" stroke="#2828ff" stroke-width="1.0"/>
<line x1="491.26" y1="102.90" x2="491.26" y2="128.20" stroke="#2828ff" stroke-width="1.0"/>
<line x1="489.76" y1="102.90" x2="492.76" y2="102.90" stroke="#2828ff" stroke-width="1.0"/>
<line x1="489.76" y1="128.20" x2="492.76" y2="128.20" stroke="#2828ff" stroke-width="1.0"/>
<polyline points="518.28,104.80 529.62,103.90 537.78,95.80 549.63,91.20 552.05,92.90 548.87,87.80 528.86,96.60 509.87,109.40 491.26,115.50" fill="none" stroke="#0000ff" stroke-width="1.2" stroke-linejoin="round"/>
<line x1="515.45" y1="292.50" x2="524.46" y2="292.50" stroke="#30ff30" stroke-width="1.0"/>
<line x1="515.45" y1="291.00" x2="515.45" y2="294.00" stroke="#30ff30" stroke-width="1.0"/>
<line x1="524.46" y1="291.00" x2="524.46" y2="294.00" stroke="#30ff30" stroke-width="1.0"/>
<line x1="520.40" y1="292.00" x2="520.40" y2="293.00" stroke="#30ff30" stroke-width="1.0"/>
<line x1="518.90" y1="292.00" x2="521.90" y2="292.00" stroke="#30ff30" stroke-width="1.0"/>
<line x1="518.90" y1="293.00" x2="521.90" y2="293.00" stroke="#30ff30" stroke-width="1.0"/>
<line x1="524.08" y1="292.50" x2="537.78" y2="292.50" stroke="#30ff30" stroke-width="1.0"/>
<line x1="524.08" y1="291.00" x2="524.08" y2="294.00" stroke="#30ff30" stroke-width="1.0"/>
<line x1="537.78" y1="291.00" x2="537.78" y2="294.00" stroke="#30ff30" stroke-width="1.0"/>
<line x1="532.07" y1="292.00" x2="532.07" y2="293.00" stroke="#30ff30" stroke-width="1.0"/>
<line x1="530.57" y1="292.00" x2="533.57" y2="292.00" stroke="#30ff30" stroke-width="1.0"/>
<line x1="530.57" y1="293.00" x2="533.57" y2="293.00" stroke="#30ff30" stroke-width="1.0"/>
<line x1="537.52" y1="292.50" x2="548.94" y2="292.50" stroke="#30ff30" stroke-width="1.0"/>
<line x1="537.52" y1="291.00" x2="537.52" y2="294.00" stroke="#30ff30" stroke-width="1.0"/>
<line x1="548.94" y1="291.00" x2="548.94" y2="294.00" stroke="#30ff30" stroke-width="1.0"/>
<line x1="543.99" y1="292.00" x2="543.99" y2="293.00" stroke="#30ff30" stroke-width="1.0"/>
<line x1="542.49" y1="292.00" x2="545.49" y2="292.00" stroke="#30ff30" stroke-width="1.0"/>
<line x1="542.49" y1="293.00" x2="545.49" y2="293.00" stroke="#30ff30" stroke-width="1.0"/>
<line x1="542.85" y1="292.50" x2="557.18" y2="292.50" stroke="#30ff30" stroke-width="1.0"/>
<line x1="542.85" y1="291.00" x2="542.85" y2="294.00" stroke="#30ff30" stroke-width="1.0"/>
<line x1="557.18" y1="291.00" x2="557.18" y2="294.00" stroke="#30ff30" stroke-width="1.0"/>
<line x1="550.46" y1="292.00" x2="550.46" y2="293.00" stroke="#30ff30" stroke-width="1.0"/>
<line x1="548.96" y1="292.00" x2="551.96" y2="292.00" stroke="#30ff30" stroke-width="1.0"/>
<line x1="548.96" y1="293.00" x2="551.96" y2="293.00" stroke="#30ff30" stroke-width="1.0"/>
<line x1="539.43" y1="292.50" x2="556.67" y2="292.50" stroke="#30ff30" stroke-width="1.0"/>
<line x1="539.43" y1="291.00" x2="539.43" y2="294.00" stroke="#30ff30" stroke-width="1.0"/>
<line x1="556.67" y1="291.00" x2="556.67" y2="294.00" stroke="#30ff30" stroke-width="1.0"/>
<line x1="548.94" y1="292.00" x2="548.94" y2="293.00" stroke="#30ff30" stroke-width="1.0"/>
<line x1="547.44" y1="292.00" x2="550.44" y2="292.00" stroke="#30ff30" stroke-width="1.0"/>
<line x1="547.44" y1="293.00" x2="550.44" y2="293.00" stroke="#30ff30" stroke-width="1.0"/>
<line x1="536.89" y1="292.50" x2="547.92" y2="292.50" stroke="#30ff30" stroke-width="1.0"/>
<line x1="536.89" y1="291.00" x2="536.89" y2="294.00" stroke="#30ff30" stroke-width="1.0"/>
<line x1="547.92" y1="291.00" x2="547.92" y2="294.00" stroke="#30ff30" stroke-width="1.0"/>
<line x1="542.60" y1="292.00" x2="542.60" y2="293.00" stroke="#30ff30" stroke-width="1.0"/>
<line x1="541.10" y1="292.00" x2="544.10" y2="292.00" stroke="#30ff30" stroke-width="1.0"/>
<line x1="541.10" y1="293.00" x2="544.10" y2="293.00" stroke="#30ff30" stroke-width="1.0"/>
<line x1="519.01" y1="292.50" x2="534.10" y2="292.50" stroke="#30ff30" stroke-width="1.0"/>
<line x1="519.01" y1="291.00" x2="519.01" y2="294.00" stroke="#30ff30" stroke-width="1.0"/>
<line x1="534.10" y1="291.00" x2="534.10" y2="294.00" stroke="#30ff30" stroke-width="1.0"/>
<line x1="527.25" y1="292.00" x2="527.25" y2="293.00" stroke="#30ff30" stroke-width="1.0"/>
<line x1="525.75" y1="292.00" x2="528.75" y2="292.00" stroke="#30ff30" stroke-width="1.0"/>
<line x1="525.75" y1="293.00" x2="528.75" y2="293.00" stroke="#30ff30" stroke-width="1.0"/>
<line x1="503.66" y1="292.50" x2="513.55" y2="292.50" stroke="#30ff30" stroke-width="1.0"/>
<line x1="503.66" y1="291.00" x2="503.66" y2="294.00" stroke="#30ff30" stroke-width="1.0"/>
<line x1="513.55" y1="291.00" x2="513.55" y2="294.00" stroke="#30ff30" stroke-width="1.0"/>
<line x1="510.00" y1="292.00" x2="510.00" y2="293.00" stroke="#30ff30" stroke-width="1.0"/>
<line x1="508.50" y1="292.00" x2="511.50" y2="292.00" stroke="#30ff30" stroke-width="1.0"/>
<line x1="508.50" y1="293.00" x2="511.50" y2="293.00" stroke="#30ff30" stroke-width="1.0"/>
<line x1="488.69" y1="292.50" x2="494.02" y2="292.50" stroke="#30ff30" stroke-width="1.0"/>
<line x1="488.69" y1="291.00" x2="488.69" y2="294.00" stroke="#30ff30" stroke-width="1.0"/>
<line x1="494.02" y1="291.00" x2="494.02" y2="294.00" stroke="#30ff30" stroke-width="1.0"/>
<line x1="492.12" y1="292.00" x2="492.12" y2="293.00" stroke="#30ff30" stroke-width="1.0"/>
<line x1="490.62" y1="292.00" x2="493.62" y2="292.00" stroke="#30ff30" stroke-width="1.0"/>
<line x1="490.62" y1="293.00" x2="493.62" y2="293.00" stroke="#30ff30" stroke-width="1.0"/>
<polyline points="520.40,292.50 532.07,292.50 543.99,292.50 550.46,292.50 548.94,292.50 542.60,292.50 527.25,292.50 510.00,292.50 492.12,292.50" fill="none" stroke="#00ff00" stroke-width="1.2" stroke-linejoin="round"/>
<line x1="550.59" y1="282.00" x2="571.13" y2="282.00" stroke="#ff3030" stroke-width="1.0"/>
<line x1="550.59" y1="280.50" x2="550.59" y2="283.50" stroke="#ff3030" stroke-width="1.0"/>
<line x1="571.13" y1="280.50" x2="571.13" y2="283.50" stroke="#ff3030" stroke-width="1.0"/>
<line x1="560.73" y1="276.50" x2="560.73" y2="287.50" stroke="#ff3030" stroke-width="1.0"/>
<line x1="559.23" y1="276.50" x2="562.23" y2="276.50" stroke="#ff3030" stroke-width="1.0"/>
<line x1="559.23" y1="287.50" x2="562.23" y2="287.50" stroke="#ff3030" stroke-width="1.0"/>
<line x1="559.21" y1="299.20" x2="584.83" y2="299.20" stroke="#ff3030" stroke-width="1.0"/>
<line x1="559.21" y1="297.70" x2="559.21" y2="300.70" stroke="#ff3030" stroke-width="1.0"/>
<line x1="584.83" y1="297.70" x2="584.83" y2="300.70" stroke="#ff3030" stroke-width="1.0"/>
<line x1="572.02" y1="290.80" x2="572.02" y2="307.00" stroke="#ff3030" stroke-width="1.0"/>
<line x1="570.52" y1="290.80" x2="573.52" y2="290.80" stroke="#ff3030" stroke-width="1.0"/>
<line x1="570.52" y1="307.00" x2="573.52" y2="307.00" stroke="#ff3030" stroke-width="1.0"/>
<line x1="575.95" y1="314.70" x2="610.20" y2="314.70" stroke="#ff3030" stroke-width="1.0"/>
<line x1="575.95" y1="313.20" x2="575.95" y2="316.20" stroke="#ff3030" stroke-width="1.0"/>
<line x1="610.20" y1="313.20" x2="610.20" y2="316.20" stroke="#ff3030" stroke-width="1.0"/>
<line x1="592.69" y1="303.30" x2="592.69" y2="326.00" stroke="#ff3030" stroke-width="1.0"/>
<line x1="591.19" y1="303.30" x2="594.19" y2="303.30" stroke="#ff3030" stroke-width="1.0"/>
<line x1="591.19" y1="326.00" x2="594.19" y2="326.00" stroke="#ff3030" stroke-width="1.0"/>
<line x1="584.20" y1="318.00" x2="618.57" y2="318.00" stroke="#ff3030" stroke-width="1.0"/>
<line x1="584.20" y1="316.50" x2="584.20" y2="319.50" stroke="#ff3030" stroke-width="1.0"/>
<line x1="618.57" y1="316.50" x2="618.57" y2="319.50" stroke="#ff3030" stroke-width="1.0"/>
<line x1="601.06" y1="309.10" x2="601.06" y2="327.20" stroke="#ff3030" stroke-width="1.0"/>
<line x1="599.56" y1="309.10" x2="602.56" y2="309.10" stroke="#ff3030" stroke-width="1.0"/>
<line x1="599.56" y1="327.20" x2="602.56" y2="327.20" stroke="#ff3030" stroke-width="1.0"/>
<line x1="565.93" y1="320.70" x2="634.29" y2="320.70" stroke="#ff3030" stroke-width="1.0"/>
<line x1="565.93" y1="319.20" x2="565.93" y2="322.20" stroke="#ff3030" stroke-width="1.0"/>
<line x1="634.29" y1="319.20" x2="634.29" y2="322.20" stroke="#ff3030" stroke-width="1.0"/>
<line x1="600.18" y1="308.40" x2="600.18" y2="333.20" stroke="#ff3030" stroke-width="1.0"/>
<line x1="598.68" y1="308.40" x2="601.68" y2="308.40" stroke="#ff3030" stroke-width="1.0"/>
<line x1="598.68" y1="333.20" x2="601.68" y2="333.20" stroke="#ff3030" stroke-width="1.0"/>
<line x1="566.82" y1="315.20" x2="592.19" y2="315.20" stroke="#ff3030" stroke-width="1.0"/>
<line x1="566.82" y1="313.70" x2="566.82" y2="316.70" stroke="#ff3030" stroke-width="1.0"/>
<line x1="592.19" y1="313.70" x2="592.19" y2="316.70" stroke="#ff3030" stroke-width="1.0"/>
<line x1="579.63" y1="303.10" x2="579.63" y2="327.20" stroke="#ff3030" stroke-width="1.0"/>
<line x1="578.13" y1="303.10" x2="581.13" y2="303.10" stroke="#ff3030" stroke-width="1.0"/>
<line x1="578.13" y1="327.20" x2="581.13" y2="327.20" stroke="#ff3030" stroke-width="1.0"/>
<line x1="556.80" y1="303.80" x2="587.11" y2="303.80" stroke="#ff3030" stroke-width="1.0"/>
<line x1="556.80" y1="302.30" x2="556.80" y2="305.30" stroke="#ff3030" stroke-width="1.0"/>
<line x1="587.11" y1="302.30" x2="587.11" y2="305.30" stroke="#ff3030" stroke-width="1.0"/>
<line x1="572.02" y1="296.40" x2="572.02" y2="311.50" stroke="#ff3030" stroke-width="1.0"/>
<line x1="570.52" y1="296.40" x2="573.52" y2="296.40" stroke="#ff3030" stroke-width="1.0"/>
<line x1="570.52" y1="311.50" x2="573.52" y2="311.50" stroke="#ff3030" stroke-width="1.0"/>
<line x1="540.31" y1="287.30" x2="569.61" y2="287.30" stroke="#ff3030" stroke-width="1.0"/>
<line x1="540.31" y1="285.80" x2="540.31" y2="288.80" stroke="#ff3030" stroke-width="1.0"/>
<line x1="569.61" y1="285.80" x2="569.61" y2="288.80" stroke="#ff3030" stroke-width="1.0"/>
<line x1="554.64" y1="280.70" x2="554.64" y2="293.80" stroke="#ff3030" stroke-width="1.0"/>
<line x1="553.14" y1="280.70" x2="556.14" y2="280.70" stroke="#ff3030" stroke-width="1.0"/>
<line x1="553.14" y1="293.80" x2="556.14" y2="293.80" stroke="#ff3030" stroke-width="1.0"/>
<line x1="512.03" y1="266.30" x2="548.30" y2="266.30" stroke="#ff3030" stroke-width="1.0"/>
<line x1="512.03" y1="264.80" x2="512.03" y2="267.80" stroke="#ff3030" stroke-width="1.0"/>
<line x1="548.30" y1="264.80" x2="548.30" y2="267.80" stroke="#ff3030" stroke-width="1.0"/>
<line x1="530.04" y1="262.70" x2="530.04" y2="269.40" stroke="#ff3030" stroke-width="1.0"/>
<line x1="528.54" y1="262.70" x2="531.54" y2="262.70" stroke="#ff3030" stroke-width="1.0"/>
<line x1="528.54" y1="269.40" x2="531.54" y2="269.40" stroke="#ff3030" stroke-width="1.0"/>
<polyline points="560.73,282.00 572.02,299.20 592.69,314.70 601.06,318.00 600.18,320.70 579.63,315.20 572.02,303.80 554.64,287.30 530.04,266.30" fill="none" stroke="#ff0000" stroke-width="1.2" stroke-linejoin="round"/>
<line x1="516.09" y1="286.00" x2="524.59" y2="286.00" stroke="#2828ff" stroke-width="1.0"/>
<line x1="516.09" y1="284.50" x2="516.09" y2="287.50" stroke="#2828ff" stroke-width="1.0"/>
<line x1="524.59" y1="284.50" x2="524.59" y2="287.50" stroke="#2828ff" stroke-width="1.0"/>
<line x1="520.15" y1="284.00" x2="520.15" y2="288.00" stroke="#2828ff" stroke-width="1.0"/>
<line x1="518.65" y1="284.00" x2="521.65" y2="284.00" stroke="#2828ff" stroke-width="1.0"/>
<line x1="518.65" y1="288.00" x2="521.65" y2="288.00" stroke="#2828ff" stroke-width="1.0"/>
<line x1="525.60" y1="289.80" x2="537.02" y2="289.80" stroke="#2828ff" stroke-width="1.0"/>
<line x1="525.60" y1="288.30" x2="525.60" y2="291.30" stroke="#2828ff" stroke-width="1.0"/>
<line x1="537.02" y1="288.30" x2="537.02" y2="291.30" stroke="#2828ff" stroke-width="1.0"/>
<line x1="531.69" y1="287.80" x2="531.69" y2="291.80" stroke="#2828ff" stroke-width="1.0"/>
<line x1="530.19" y1="287.80" x2="533.19" y2="287.80" stroke="#2828ff" stroke-width="1.0"/>
<line x1="530.19" y1="291.80" x2="533.19" y2="291.80" stroke="#2828ff" stroke-width="1.0"/>
<line x1="536.25" y1="292.40" x2="550.08" y2="292.40" stroke="#2828ff" stroke-width="1.0"/>
<line x1="536.25" y1="290.90" x2="536.25" y2="293.90" stroke="#2828ff" stroke-width="1.0"/>
<line x1="550.08" y1="290.90" x2="550.08" y2="293.90" stroke="#2828ff" stroke-width="1.0"/>
<line x1="543.61" y1="290.40" x2="543.61" y2="294.40" stroke="#2828ff" stroke-width="1.0"/>
<line x1="542.11" y1="290.40" x2="545.11" y2="290.40" stroke="#2828ff" stroke-width="1.0"/>
<line x1="542.11" y1="294.40" x2="545.11" y2="294.40" stroke="#2828ff" stroke-width="1.0"/>
<line x1="542.09" y1="294.40" x2="557.94" y2="294.40" stroke="#2828ff" stroke-width="1.0"/>
<line x1="542.09" y1="292.90" x2="542.09" y2="295.90" stroke="#2828ff" stroke-width="1.0"/>
<line x1="557.94" y1="292.90" x2="557.94" y2="295.90" stroke="#2828ff" stroke-width="1.0"/>
<line x1="550.08" y1="292.40" x2="550.08" y2="296.40" stroke="#2828ff" stroke-width="1.0"/>
<line x1="548.58" y1="292.40" x2="551.58" y2="292.40" stroke="#2828ff" stroke-width="1.0"/>
<line x1="548.58" y1="296.40" x2="551.58" y2="296.40" stroke="#2828ff" stroke-width="1.0"/>
<line x1="542.60" y1="294.40" x2="555.41" y2="294.40" stroke="#2828ff" stroke-width="1.0"/>
<line x1="542.60" y1="292.90" x2="542.60" y2="295.90" stroke="#2828ff" stroke-width="1.0"/>
<line x1="555.41" y1="292.90" x2="555.41" y2="295.90" stroke="#2828ff" stroke-width="1.0"/>
<line x1="548.68" y1="292.40" x2="548.68" y2="296.40" stroke="#2828ff" stroke-width="1.0"/>
<line x1="547.18" y1="292.40" x2="550.18" y2="292.40" stroke="#2828ff" stroke-width="1.0"/>
<line x1="547.18" y1="296.40" x2="550.18" y2="296.40" stroke="#2828ff" stroke-width="1.0"/>
<line x1="537.65" y1="293.00" x2="546.78" y2="293.00" stroke="#2828ff" stroke-width="1.0"/>
<line x1="537.65" y1="291.50" x2="537.65" y2="294.50" stroke="#2828ff" stroke-width="1.0"/>
<line x1="546.78" y1="291.50" x2="546.78" y2="294.50" stroke="#2828ff" stroke-width="1.0"/>
<line x1="542.22" y1="291.00" x2="542.22" y2="295.00" stroke="#2828ff" stroke-width="1.0"/>
<line x1="540.72" y1="291.00" x2="543.72" y2="291.00" stroke="#2828ff" stroke-width="1.0"/>
<line x1="540.72" y1="295.00" x2="543.72" y2="295.00" stroke="#2828ff" stroke-width="1.0"/>
<line x1="520.78" y1="289.90" x2="532.96" y2="289.90" stroke="#2828ff" stroke-width="1.0"/>
<line x1="520.78" y1="288.40" x2="520.78" y2="291.40" stroke="#2828ff" stroke-width="1.0"/>
<line x1="532.96" y1="288.40" x2="532.96" y2="291.40" stroke="#2828ff" stroke-width="1.0"/>
<line x1="527.00" y1="287.90" x2="527.00" y2="291.90" stroke="#2828ff" stroke-width="1.0"/>
<line x1="525.50" y1="287.90" x2="528.50" y2="287.90" stroke="#2828ff" stroke-width="1.0"/>
<line x1="525.50" y1="291.90" x2="528.50" y2="291.90" stroke="#2828ff" stroke-width="1.0"/>
<line x1="505.56" y1="285.10" x2="513.93" y2="285.10" stroke="#2828ff" stroke-width="1.0"/>
<line x1="505.56" y1="283.60" x2="505.56" y2="286.60" stroke="#2828ff" stroke-width="1.0"/>
<line x1="513.93" y1="283.60" x2="513.93" y2="286.60" stroke="#2828ff" stroke-width="1.0"/>
<line x1="509.75" y1="283.10" x2="509.75" y2="287.10" stroke="#2828ff" stroke-width="1.0"/>
<line x1="508.25" y1="283.10" x2="511.25" y2="283.10" stroke="#2828ff" stroke-width="1.0"/>
<line x1="508.25" y1="287.10" x2="511.25" y2="287.10" stroke="#2828ff" stroke-width="1.0"/>
<line x1="489.33" y1="279.50" x2="493.39" y2="279.50" stroke="#2828ff" stroke-width="1.0"/>
<line x1="489.33" y1="278.00" x2="489.33" y2="281.00" stroke="#2828ff" stroke-width="1.0"/>
<line x1="493.39" y1="278.00" x2="493.39" y2="281.00" stroke="#2828ff" stroke-width="1.0"/>
<line x1="491.86" y1="277.50" x2="491.86" y2="281.50" stroke="#2828ff" stroke-width="1.0"/>
<line x1="490.36" y1="277.50" x2="493.36" y2="277.50" stroke="#2828ff" stroke-width="1.0"/>
<line x1="490.36" y1="281.50" x2="493.36" y2="281.50" stroke="#2828ff" stroke-width="1.0"/>
<polyline points="520.15,286.00 531.69,289.80 543.61,292.40 550.08,294.40 548.68,294.40 542.22,293.00 527.00,289.90 509.75,285.10 491.86,279.50" fill="none" stroke="#0000ff" stroke-width="1.2" stroke-linejoin="round"/>
</svg></body></html>
